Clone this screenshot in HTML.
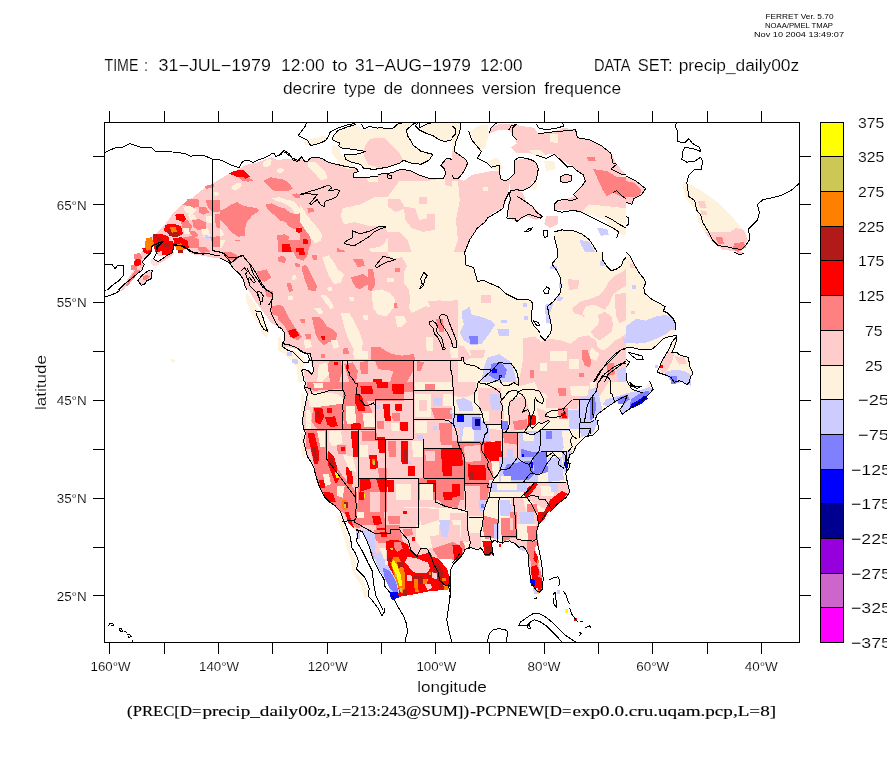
<!DOCTYPE html>
<html><head><meta charset="utf-8">
<style>
html,body{margin:0;padding:0;background:#fff;width:887px;height:765px;overflow:hidden}
svg{display:block}
text{font-family:"Liberation Sans",sans-serif;fill:#000;stroke:#fff;stroke-width:0.15px}
.s{stroke:none} .s text{stroke:inherit}
.s{font-family:"Liberation Serif",serif}
</style></head><body>
<svg width="887" height="765" viewBox="0 0 887 765">
<rect width="887" height="765" fill="#fff"/>
<!-- header -->
<g font-size="8" class="s" style="font-family:'Liberation Sans',sans-serif">
<text x="765.5" y="18.5" textLength="68" lengthAdjust="spacingAndGlyphs">FERRET Ver. 5.70</text>
<text x="765" y="27.5" textLength="68" lengthAdjust="spacingAndGlyphs">NOAA/PMEL TMAP</text>
<text x="754" y="36.5" textLength="90" lengthAdjust="spacingAndGlyphs">Nov 10 2004 13:49:07</text>
</g>
<g font-size="16">
<text x="104.5" y="71" textLength="33.9" lengthAdjust="spacingAndGlyphs">TIME</text>
<text x="144.2" y="71" textLength="3.6" lengthAdjust="spacingAndGlyphs">:</text>
<text x="158.6" y="71" textLength="112.3" lengthAdjust="spacingAndGlyphs">31−JUL−1979</text>
<text x="281.1" y="71" textLength="43.6" lengthAdjust="spacingAndGlyphs">12:00</text>
<text x="332.2" y="71" textLength="15.4" lengthAdjust="spacingAndGlyphs">to</text>
<text x="355.1" y="71" textLength="115.7" lengthAdjust="spacingAndGlyphs">31−AUG−1979</text>
<text x="479.9" y="71" textLength="42.7" lengthAdjust="spacingAndGlyphs">12:00</text>
<text x="593.9" y="71" textLength="36.7" lengthAdjust="spacingAndGlyphs">DATA</text>
<text x="637.7" y="71" textLength="34.8" lengthAdjust="spacingAndGlyphs">SET:</text>
<text x="678.7" y="71" textLength="120.4" lengthAdjust="spacingAndGlyphs">precip_daily00z</text>
<text x="282.9" y="94.4" textLength="53.1" lengthAdjust="spacingAndGlyphs">decrire</text>
<text x="343.7" y="94.4" textLength="32.1" lengthAdjust="spacingAndGlyphs">type</text>
<text x="383.7" y="94.4" textLength="18.9" lengthAdjust="spacingAndGlyphs">de</text>
<text x="410.7" y="94.4" textLength="63.3" lengthAdjust="spacingAndGlyphs">donnees</text>
<text x="482.0" y="94.4" textLength="54.1" lengthAdjust="spacingAndGlyphs">version</text>
<text x="544.2" y="94.4" textLength="76.9" lengthAdjust="spacingAndGlyphs">frequence</text>
</g>
<!-- MAP -->
<g id="map"><defs><clipPath id="cA1"><rect x="104.00" y="122.00" width="174.00" height="130.06"/></clipPath><clipPath id="lA1"><path clip-rule="evenodd" d="M103.50 121.50H278.50V252.56H103.50ZM104.00 220.00H204.00V252.56H104.00ZM278.00 122.00H278.50V185.13H278.00ZM190.00 150.00H278.50V240.03H190.00ZM278.00 252.00H278.50V252.56H278.00ZM120.00 200.00H220.00V252.56H120.00Z"/></clipPath><clipPath id="cA2"><rect x="278.00" y="122.00" width="174.00" height="130.06"/></clipPath><clipPath id="lA2"><path clip-rule="evenodd" d="M277.50 121.50H452.50V252.56H277.50ZM278.00 122.00H378.00V185.13H278.00ZM277.50 150.00H300.00V240.03H277.50ZM278.00 252.00H368.00V252.56H278.00ZM368.00 252.00H452.50V252.56H368.00Z"/></clipPath><clipPath id="cA3"><rect x="452.00" y="122.00" width="174.00" height="130.06"/></clipPath><clipPath id="lA3"><path clip-rule="evenodd" d="M451.50 121.50H626.50V252.56H451.50ZM540.00 252.00H626.00V252.56H540.00ZM451.50 252.00H458.00V252.56H451.50Z"/></clipPath><clipPath id="cA4"><rect x="626.00" y="122.00" width="174.00" height="130.06"/></clipPath><clipPath id="lA4"><path clip-rule="evenodd" d="M625.50 121.50H800.50V252.56H625.50ZM625.50 252.00H626.00V252.56H625.50Z"/></clipPath><clipPath id="cB1"><rect x="104.00" y="252.00" width="174.00" height="130.06"/></clipPath><clipPath id="lB1"><path clip-rule="evenodd" d="M103.50 251.50H278.50V382.56H103.50ZM104.00 251.50H204.00V290.01H104.00ZM278.00 252.00H278.50V381.91H278.00ZM120.00 251.50H220.00V270.01H120.00Z"/></clipPath><clipPath id="cB2"><rect x="278.00" y="252.00" width="174.00" height="130.06"/></clipPath><clipPath id="lB2"><path clip-rule="evenodd" d="M277.50 251.50H452.50V382.56H277.50ZM278.00 252.00H368.00V381.91H278.00ZM368.00 252.00H452.50V381.91H368.00Z"/></clipPath><clipPath id="cB3"><rect x="452.00" y="252.00" width="174.00" height="130.06"/></clipPath><clipPath id="lB3"><path clip-rule="evenodd" d="M451.50 251.50H626.50V382.56H451.50ZM590.00 330.00H626.50V382.56H590.00ZM540.00 252.00H626.00V382.02H540.00ZM451.50 252.00H458.00V381.91H451.50Z"/></clipPath><clipPath id="cB4"><rect x="626.00" y="252.00" width="174.00" height="130.06"/></clipPath><clipPath id="lB4"><path clip-rule="evenodd" d="M625.50 251.50H800.50V382.56H625.50ZM625.50 330.00H700.00V382.56H625.50ZM625.50 252.00H626.00V382.02H625.50Z"/></clipPath><clipPath id="cC2"><rect x="278.00" y="382.00" width="174.00" height="130.06"/></clipPath><clipPath id="lC2"><path clip-rule="evenodd" d="M277.50 381.50H452.50V512.56H277.50ZM400.00 500.00H452.50V512.56H400.00ZM278.00 381.50H368.00V381.91H278.00ZM368.00 381.50H452.50V381.91H368.00Z"/></clipPath><clipPath id="cC3"><rect x="452.00" y="382.00" width="174.00" height="130.06"/></clipPath><clipPath id="lC3"><path clip-rule="evenodd" d="M451.50 381.50H626.50V512.56H451.50ZM590.00 381.50H626.50V420.03H590.00ZM451.50 500.00H510.00V512.56H451.50ZM540.00 381.50H626.00V382.02H540.00ZM451.50 381.50H458.00V381.91H451.50Z"/></clipPath><clipPath id="cC4"><rect x="626.00" y="382.00" width="174.00" height="130.06"/></clipPath><clipPath id="lC4"><path clip-rule="evenodd" d="M625.50 381.50H800.50V512.56H625.50ZM625.50 381.50H700.00V420.03H625.50ZM625.50 381.50H626.00V382.02H625.50Z"/></clipPath><clipPath id="cD1"><rect x="104.00" y="512.00" width="174.00" height="130.06"/></clipPath><clipPath id="lD1"><path clip-rule="evenodd" d="M103.50 511.50H278.50V642.56H103.50Z"/></clipPath><clipPath id="cD2"><rect x="278.00" y="512.00" width="174.00" height="130.06"/></clipPath><clipPath id="lD2"><path clip-rule="evenodd" d="M277.50 511.50H452.50V642.56H277.50ZM400.00 511.50H452.50V599.94H400.00ZM360.00 525.00H452.50V599.97H360.00Z"/></clipPath><clipPath id="cD3"><rect x="452.00" y="512.00" width="174.00" height="130.06"/></clipPath><clipPath id="lD3"><path clip-rule="evenodd" d="M451.50 511.50H626.50V642.56H451.50ZM451.50 511.50H510.00V599.94H451.50ZM451.50 525.00H460.00V599.97H451.50Z"/></clipPath><clipPath id="cAK"><rect x="104.00" y="220.00" width="100.00" height="70.01"/></clipPath><clipPath id="lAK"><path clip-rule="evenodd" d="M103.50 219.50H204.50V290.51H103.50ZM190.00 219.50H204.50V240.03H190.00ZM120.00 219.50H204.50V270.01H120.00Z"/></clipPath><clipPath id="cX1"><rect x="278.00" y="122.00" width="100.00" height="63.13"/></clipPath><clipPath id="lX1"><path clip-rule="evenodd" d="M277.50 121.50H378.50V185.63H277.50ZM277.50 150.00H300.00V185.63H277.50Z"/></clipPath><clipPath id="cX2"><rect x="590.00" y="330.00" width="110.00" height="90.03"/></clipPath><clipPath id="lX2"><path clip-rule="evenodd" d="M589.50 329.50H700.50V420.53H589.50ZM589.50 329.50H626.00V382.02H589.50Z"/></clipPath><clipPath id="cX3"><rect x="400.00" y="500.00" width="110.00" height="99.94"/></clipPath><clipPath id="lX3"><path clip-rule="evenodd" d="M399.50 499.50H510.50V600.44H399.50ZM399.50 525.00H460.00V599.97H399.50Z"/></clipPath><clipPath id="cX4"><rect x="540.00" y="252.00" width="86.00" height="130.02"/></clipPath><clipPath id="lX4"><path clip-rule="evenodd" d="M539.50 251.50H626.50V382.52H539.50Z"/></clipPath><clipPath id="cX5"><rect x="190.00" y="150.00" width="110.00" height="90.03"/></clipPath><clipPath id="lX5"><path clip-rule="evenodd" d="M189.50 149.50H300.50V240.53H189.50ZM189.50 200.00H220.00V240.53H189.50Z"/></clipPath><clipPath id="cX6"><rect x="278.00" y="252.00" width="90.00" height="129.91"/></clipPath><clipPath id="lX6"><path clip-rule="evenodd" d="M277.50 251.50H368.50V382.41H277.50ZM368.00 252.00H368.50V381.91H368.00Z"/></clipPath><clipPath id="cX7"><rect x="368.00" y="252.00" width="90.00" height="129.91"/></clipPath><clipPath id="lX7"><path clip-rule="evenodd" d="M367.50 251.50H458.50V382.41H367.50Z"/></clipPath><clipPath id="cX8"><rect x="120.00" y="200.00" width="100.00" height="70.01"/></clipPath><clipPath id="lX8"><path clip-rule="evenodd" d="M119.50 199.50H220.50V270.51H119.50Z"/></clipPath><clipPath id="cX9"><rect x="360.00" y="525.00" width="100.00" height="74.97"/></clipPath><clipPath id="lX9"><path clip-rule="evenodd" d="M359.50 524.50H460.50V600.47H359.50Z"/></clipPath><clipPath id="cmap"><rect x="104" y="122" width="696" height="521"/></clipPath></defs><g clip-path="url(#cmap)" shape-rendering="crispEdges"><g clip-path="url(#cA1)"><rect x="104.0" y="122.0" width="174.0" height="130.1" fill="#fff"/><polygon fill="#ffcccc" points="142.3,252.1 149.1,243.6 157.0,235.8 164.8,226.0 172.7,218.1 180.5,210.3 188.4,202.4 196.2,196.5 206.0,188.7 215.8,181.8 225.6,175.9 233.5,172.0 239.7,168.7 241.3,164.2 245.2,161.2 253.1,162.2 260.9,158.3 272.7,153.4 278.0,156.3 278.0,252.1"/><polygon fill="#fff2dc" points="231.5,183.8 239.4,181.8 242.3,186.7 235.4,190.7"/><polygon fill="#fff2dc" points="213.9,191.6 218.8,190.7 219.7,195.6 214.8,196.2"/><polygon fill="#fff2dc" points="260.9,159.7 270.7,156.3 273.1,163.6 266.8,167.5 261.9,164.2"/><polygon fill="#fff2dc" points="272.7,196.5 278.0,195.0 278.0,202.4 273.7,201.4"/><polygon fill="#fff2dc" points="186.4,206.4 196.2,208.3 198.6,216.2 190.3,218.5 184.4,212.6"/><polygon fill="#fff2dc" points="202.1,216.2 213.9,214.2 221.7,224.0 219.7,231.9 225.6,239.7 221.7,247.5 214.8,252.1 208.0,252.1 206.0,239.7 200.1,226.0"/><polygon fill="#ff8080" points="264.9,178.9 274.7,176.9 278.0,180.9 278.0,188.7 270.7,191.1 264.9,184.8"/><polygon fill="#ff8080" points="225.6,204.4 239.4,202.4 249.2,208.3 259.0,209.3 257.0,216.2 249.2,220.1 245.2,226.0 241.3,231.9 239.4,241.7 231.5,239.7 225.6,231.9 217.8,224.0 213.9,214.2 221.7,210.3"/><polygon fill="#ff8080" points="266.8,204.4 278.0,202.4 278.0,212.6 270.7,212.6"/><polygon fill="#ff8080" points="186.4,198.5 196.2,200.5 206.0,204.4 211.9,208.3 209.9,214.2 202.1,212.2 196.2,210.3 188.4,204.4"/><polygon fill="#ff8080" points="206.0,186.7 215.8,183.8 216.2,188.7 209.9,191.1"/><polygon fill="#ff8080" points="192.3,222.0 202.1,220.1 209.9,226.0 204.0,231.9 196.2,231.9"/><polygon fill="#ff8080" points="223.7,175.0 229.5,172.0 253.1,175.0 251.1,180.9 239.4,180.9 229.5,178.9"/><polygon fill="#ff8080" points="157.0,235.8 162.9,231.9 168.7,239.7 162.9,245.6 155.0,243.6"/><polygon fill="#ff0000" points="229.5,174.0 239.4,171.0 245.2,171.0 250.1,175.9 245.2,177.9 239.4,176.9 233.5,176.9"/><polygon fill="#ff0000" points="176.6,216.2 182.5,214.2 186.4,218.1 182.5,221.1 177.6,220.1"/><polygon fill="#ff0000" points="162.9,226.0 170.7,222.0 178.5,224.0 184.4,229.9 186.4,239.7 191.3,247.5 188.4,252.1 144.2,252.1 151.1,241.7 157.0,236.8"/><polygon fill="#ff8000" points="168.7,226.9 173.6,226.0 176.6,229.9 172.7,232.8 168.7,230.9"/><polygon fill="#b21a1a" points="170.7,232.8 178.5,231.9 184.4,235.8 181.5,238.7 174.6,237.7"/><polygon fill="#b21a1a" points="153.0,237.7 157.9,234.8 160.9,239.7 156.0,241.7"/><polygon fill="#ff8000" points="146.2,247.5 150.1,241.7 153.0,244.6 151.1,249.5"/><polygon fill="#ff8000" points="174.6,244.6 182.5,245.6 186.4,250.5 178.5,252.1 173.6,249.5"/><polygon fill="#ff8080" points="184.4,241.7 192.3,243.6 196.2,252.1 188.4,252.1"/><polygon fill="#ccccff" points="203.7,236.2 207.0,234.8 209.9,237.7 206.4,239.7"/></g>
<g clip-path="url(#cA2)"><rect x="278.0" y="122.0" width="174.0" height="130.1" fill="#fff"/><polygon fill="#ffcccc" points="278.0,156.3 282.9,151.0 287.8,154.4 292.7,158.3 297.6,160.3 302.5,156.9 305.5,161.2 309.4,158.3 319.2,157.7 329.0,161.2 340.8,163.2 350.6,166.1 356.5,169.1 358.4,174.0 352.5,175.9 362.4,177.9 372.2,173.0 378.0,175.0 383.9,173.0 391.8,175.9 391.8,178.9 387.9,177.9 386.9,174.0 393.7,172.0 401.6,169.1 411.4,171.0 419.2,175.0 431.0,178.9 442.8,178.9 445.7,174.0 444.7,169.1 440.8,165.2 446.7,158.3 452.0,159.3 452.0,252.1 278.0,252.1"/><polygon fill="#fff2dc" points="332.9,131.8 336.9,128.9 346.7,125.9 360.4,124.0 364.3,127.9 376.1,126.9 387.9,128.9 393.7,127.9 397.7,124.0 405.5,122.0 419.2,122.0 413.4,124.0 406.5,129.8 407.5,135.7 411.4,141.6 413.4,145.5 421.2,151.4 433.0,154.4 429.0,160.3 421.2,164.2 411.4,163.2 403.5,160.3 399.6,163.2 387.9,167.1 376.1,169.1 360.4,167.1 348.6,161.2 344.7,156.3 352.5,154.4 364.3,151.4 356.5,149.5 344.7,148.5 340.8,143.6 334.9,140.6 332.9,135.7"/><polygon fill="#ffcccc" points="368.2,139.7 383.9,137.7 391.8,145.5 399.6,153.4 403.5,160.3 399.6,163.2 387.9,167.1 378.0,168.1 376.1,157.3 370.2,149.5"/><polygon fill="#fff2dc" points="419.2,127.9 427.1,124.0 434.9,122.0 452.0,122.0 452.0,139.7 444.7,141.6 438.9,139.7 433.0,135.7 427.1,133.8"/><polygon fill="#fff2dc" points="307.4,141.6 327.0,139.7 334.9,147.5 327.0,149.5 309.4,145.5"/><polygon fill="#fff2dc" points="278.0,165.2 289.8,166.1 289.8,173.0 278.0,173.4"/><polygon fill="#fff2dc" points="307.4,163.2 319.2,161.2 325.1,171.0 323.1,178.9 315.3,176.9"/><polygon fill="#fff2dc" points="331.0,162.2 356.5,170.1 352.5,175.9 342.7,173.4 334.9,169.1"/><polygon fill="#fff2dc" points="342.7,208.3 360.4,204.4 376.1,196.5 387.9,196.5 399.6,180.9 427.1,180.9 452.0,176.9 452.0,252.1 372.2,252.1 360.4,243.6 346.7,231.9 340.8,216.2"/><polygon fill="#ffcccc" points="403.5,206.4 415.3,208.3 419.2,220.1 434.9,216.2 434.9,229.9 423.2,231.9 411.4,227.9 405.5,220.1"/><polygon fill="#ffcccc" points="387.9,231.9 399.6,231.9 407.5,239.7 411.4,252.1 387.9,252.1"/><polygon fill="#ffcccc" points="444.7,161.2 452.0,160.3 452.0,186.7 444.7,184.8"/><polygon fill="#ffcccc" points="387.9,198.5 399.6,198.5 405.5,208.3 395.7,212.2 387.9,206.4"/><polygon fill="#ffcccc" points="419.2,196.5 427.1,196.5 427.1,204.4 419.2,204.4"/><polygon fill="#ffcccc" points="427.1,214.2 434.9,214.2 434.9,227.9 427.1,227.9"/><polygon fill="#ff8080" points="278.0,178.9 287.8,178.9 293.7,190.7 283.9,192.6 278.0,190.7"/><polygon fill="#ff8080" points="278.0,196.5 289.8,195.6 297.6,204.4 301.5,214.2 305.5,224.0 309.4,231.9 311.3,243.6 307.4,252.1 278.0,252.1"/><polygon fill="#ff8080" points="307.4,208.3 313.3,208.3 314.3,212.2 308.4,212.6"/><polygon fill="#ffcccc" points="283.9,200.5 291.7,204.4 295.7,214.2 289.8,216.2 283.9,208.3"/><polygon fill="#ffcccc" points="285.8,224.0 291.7,222.0 295.7,229.9 289.8,231.9"/><polygon fill="#ff0000" points="295.7,227.9 301.5,227.9 302.5,231.9 296.6,232.2"/><polygon fill="#ff0000" points="302.5,238.7 307.4,238.7 307.8,243.6 303.1,243.6"/><polygon fill="#ff0000" points="281.9,243.6 289.8,243.6 291.7,252.1 281.9,252.1"/><polygon fill="#ff0000" points="295.7,247.5 303.5,247.5 303.5,252.1 295.7,252.1"/><polygon fill="#ff8080" points="336.9,247.5 344.7,247.5 344.7,252.1 336.9,252.1"/><polygon fill="#fff2dc" points="290.0,201.1 297.4,199.9 307.4,216.0 316.1,226.0 322.1,234.6 321.0,240.9 314.9,243.2 308.6,234.6 300.0,222.2 292.5,212.2 290.0,209.9"/><polygon fill="#ffcccc" points="337.0,226.0 354.5,222.2 369.4,226.0 384.3,226.0 389.2,234.6 384.3,243.2 379.2,247.0 364.3,249.5 352.0,252.1 339.6,249.5 335.9,240.9"/></g>
<g clip-path="url(#cA3)"><rect x="452.0" y="122.0" width="174.0" height="130.1" fill="#fff"/><polygon fill="#fff2dc" points="452.0,122.0 460.8,122.0 459.8,131.8 455.9,141.6 454.0,151.4 452.0,153.4"/><polygon fill="#fff2dc" points="469.7,131.8 477.5,125.9 487.3,124.0 489.3,133.8 485.3,147.5 481.4,151.4 473.6,141.6"/><polygon fill="#fff2dc" points="487.3,161.2 497.1,157.3 503.0,167.1 499.1,171.0 491.2,169.1"/><polygon fill="#ffcccc" points="452.0,151.4 454.0,151.4 459.8,155.3 465.7,159.3 467.7,163.2 464.8,169.1 462.8,173.0 457.9,178.9 463.8,180.9 471.6,175.0 481.4,173.0 491.2,171.0 499.1,171.0 501.0,178.9 505.0,180.9 508.9,178.9 508.9,188.7 506.9,196.5 505.0,204.4 501.0,208.3 491.2,214.2 485.3,222.0 477.5,227.9 469.7,239.7 464.8,252.1 452.0,252.1"/><polygon fill="#fff2dc" points="452.0,180.9 457.9,180.9 459.8,200.5 455.9,220.1 457.9,239.7 454.0,252.1 452.0,252.1"/><polygon fill="#fff2dc" points="483.4,186.7 488.3,186.7 488.3,190.7 483.4,190.7"/><polygon fill="#ffcccc" points="514.8,160.3 526.5,158.3 536.4,163.2 538.3,169.1 536.4,178.9 530.5,186.7 522.6,190.7 516.7,189.7 510.9,190.7 508.9,180.9 514.8,173.0"/><polygon fill="#ffcccc" points="510.9,190.7 516.7,189.7 522.6,192.6 526.5,202.4 534.4,208.3 542.2,216.2 536.4,220.1 526.5,216.2 516.7,222.0 508.9,218.1 507.9,204.4"/><polygon fill="#fff2dc" points="530.5,180.9 537.3,180.9 536.4,188.7 530.5,189.7"/><polygon fill="#ffcccc" points="489.3,133.8 499.1,129.8 508.9,129.8 514.8,137.7 516.7,143.6 510.9,147.5 516.7,153.4 530.5,153.4 542.2,155.3 554.0,153.4 561.9,160.3 571.7,166.1 581.5,173.0 585.4,180.9 577.5,190.7 573.6,196.5 561.9,200.5 554.0,204.4 554.0,210.3 569.7,210.3 589.3,214.2 607.0,220.1 626.0,224.0 626.0,175.0 616.8,164.2 610.9,153.4 601.1,145.5 589.3,139.7 577.5,137.7 575.6,129.8 563.8,127.9 554.0,131.8 538.3,133.8 534.4,127.9 520.7,125.9 510.9,124.0 501.0,124.0 491.2,125.9"/><polygon fill="#fff2dc" points="528.5,149.5 540.3,149.5 546.2,155.3 534.4,156.3"/><polygon fill="#fff2dc" points="550.1,133.8 557.9,133.8 557.9,143.6 550.1,141.6"/><polygon fill="#fff2dc" points="544.2,161.2 554.0,161.2 556.0,169.1 546.2,171.0"/><polygon fill="#fff2dc" points="589.3,204.4 608.9,206.4 626.0,208.3 626.0,224.0 607.0,220.1 589.3,214.2 581.5,212.2"/><polygon fill="#fff2dc" points="620.7,175.0 626.0,175.0 626.0,184.8 620.7,184.8"/><polygon fill="#ff8080" points="587.4,157.3 595.2,157.3 595.6,161.2 587.7,161.2"/><polygon fill="#ff8080" points="593.2,169.1 607.0,171.0 616.8,176.9 626.0,176.9 626.0,196.5 620.7,196.5 612.9,192.6 607.0,196.5 603.0,190.7"/><polygon fill="#ffcccc" points="559.9,176.9 565.8,174.0 571.7,175.9 571.7,180.9 565.8,182.8 560.9,181.8"/><polygon fill="#fff2dc" points="554.0,231.9 561.9,229.9 573.6,230.9 581.5,233.8 589.3,239.7 593.2,245.6 597.2,252.1 557.9,252.1 556.0,243.6"/><polygon fill="#ccccff" points="579.5,239.7 589.3,241.7 595.2,252.1 585.4,252.1 581.5,245.6"/><polygon fill="#fff2dc" points="605.0,216.2 626.0,226.0 626.0,235.8 618.7,233.8 608.9,226.0"/><polygon fill="#ccccff" points="597.2,227.9 607.0,228.9 608.9,234.8 601.1,235.8"/><polygon fill="#ffcccc" points="546.2,216.2 557.9,216.2 557.9,224.0 550.1,227.9 544.2,224.0"/></g>
<g clip-path="url(#cA4)"><rect x="626.0" y="122.0" width="174.0" height="130.1" fill="#fff"/><polygon fill="#ffcccc" points="626.0,176.9 635.8,180.9 644.6,188.7 641.7,194.6 633.8,198.5 631.9,204.4 626.0,203.4"/><polygon fill="#ff8080" points="626.0,180.9 633.8,182.8 641.7,189.7 639.7,194.6 633.8,197.5 626.0,196.5"/><polygon fill="#fff2dc" points="682.9,180.9 686.8,182.8 690.7,184.8 704.5,192.6 720.2,204.4 731.9,216.2 739.8,226.0 745.7,231.9 747.6,239.7 743.7,247.5 735.9,251.5 720.2,247.5 712.3,239.7 704.5,231.9 698.6,222.0 696.6,212.2 690.7,204.4 684.9,196.5 682.9,186.7"/><polygon fill="#ffcccc" points="704.5,231.9 716.2,231.9 730.0,231.9 735.9,227.9 743.7,229.9 747.6,239.7 743.7,247.5 735.9,251.5 722.1,249.5 712.3,241.7"/><polygon fill="#ff8080" points="715.3,236.8 722.1,236.8 724.1,243.6 718.2,244.0"/><polygon fill="#ff8080" points="733.9,243.6 743.7,241.7 746.1,247.5 737.8,252.1 732.9,249.5"/><polygon fill="#ffcccc" points="697.6,200.5 704.5,201.4 706.8,208.3 700.5,208.3"/><polygon fill="#ffcccc" points="700.5,210.3 706.4,211.3 706.8,214.6 701.5,214.6"/></g>
<g clip-path="url(#cB1)"><rect x="104.0" y="252.0" width="174.0" height="130.1" fill="#fff"/><polygon fill="#ffcccc" points="193.3,252.0 202.1,254.0 213.9,254.9 221.7,258.9 229.5,262.8 233.5,268.7 239.4,273.6 243.3,279.5 245.2,286.3 249.2,291.2 255.0,301.0 260.9,308.9 266.8,316.7 270.7,322.6 278.0,326.5 278.0,252.0"/><polygon fill="#ffcccc" points="206.0,252.0 208.0,253.6 217.8,257.9 221.7,252.0"/><polygon fill="#fff2dc" points="246.2,292.2 253.1,301.0 259.0,310.9 264.9,320.7 269.2,330.5 266.8,337.9 262.5,334.4 259.0,324.6 253.1,316.7 248.8,306.9 245.6,299.1"/><polygon fill="#ff8080" points="257.0,271.6 266.8,269.3 271.1,277.5 264.9,281.8 259.0,279.5"/><polygon fill="#ff8080" points="264.9,289.3 273.1,291.2 272.7,297.5 266.8,297.1"/><polygon fill="#ff8080" points="270.7,306.9 278.0,305.0 278.0,315.8 272.7,314.8"/><polygon fill="#ff8080" points="221.7,252.0 231.5,252.0 239.4,256.9 235.4,260.8 229.5,259.8"/><polygon fill="#fff2dc" points="170.7,359.9 173.1,358.5 175.0,361.1 172.7,363.0"/><polygon fill="#ffcccc" points="115.8,293.2 123.6,287.3 125.6,285.3 122.6,290.3"/></g>
<g clip-path="url(#cB2)"><rect x="278.0" y="252.0" width="174.0" height="130.1" fill="#ffcccc"/><polygon fill="#fff2dc" points="387.9,252.0 452.0,252.0 452.0,303.0 434.9,304.6 427.1,310.9 415.3,310.9 411.4,301.0 415.3,291.2 407.5,281.4 403.5,271.6 395.7,263.8 391.8,255.9"/><polygon fill="#ffcccc" points="395.7,267.7 403.5,267.7 403.5,273.6 395.7,273.6"/><polygon fill="#ffcccc" points="431.0,295.2 452.0,293.2 452.0,303.0 434.9,304.6"/><polygon fill="#fff2dc" points="370.2,287.3 383.9,287.3 391.8,297.1 395.7,305.0 391.8,316.7 382.0,316.7 374.1,310.9 370.2,301.0"/><polygon fill="#fff2dc" points="323.1,255.9 334.9,254.0 338.8,263.8 342.7,275.5 336.9,283.4 331.0,281.4 327.0,269.7"/><polygon fill="#fff2dc" points="340.8,310.9 346.7,310.9 354.5,322.6 360.4,330.5 366.3,344.2 362.4,346.2 354.5,338.3 346.7,328.5 342.7,318.7"/><polygon fill="#fff2dc" points="395.7,316.7 405.5,316.7 407.5,326.5 399.6,326.5"/><polygon fill="#fff2dc" points="427.1,336.4 433.0,336.4 434.9,350.1 428.1,350.1"/><polygon fill="#fff2dc" points="317.2,306.9 323.1,306.9 323.1,310.9 317.2,310.9"/><polygon fill="#fff2dc" points="321.2,295.2 329.0,295.2 332.9,306.9 327.0,306.9"/><polygon fill="#fff2dc" points="344.7,344.2 352.5,344.2 352.5,352.0 345.7,352.0"/><polygon fill="#ff8080" points="278.0,252.0 285.8,252.0 286.8,262.8 280.0,263.8 278.0,261.8"/><polygon fill="#ff8080" points="293.7,252.0 307.4,252.0 307.4,260.8 295.7,261.8"/><polygon fill="#ff8080" points="301.5,263.8 307.4,263.8 317.2,283.4 315.3,291.2 309.4,291.2 303.5,277.5"/><polygon fill="#ff8080" points="285.8,283.4 291.7,283.4 293.7,291.2 287.8,291.2"/><polygon fill="#ff8080" points="354.5,257.9 364.3,259.8 364.3,267.7 356.5,267.7"/><polygon fill="#ff8080" points="352.5,277.5 364.3,273.6 370.2,269.7 376.1,281.4 374.1,291.2 364.3,287.3 356.5,289.3"/><polygon fill="#ff8080" points="278.0,305.0 285.8,310.9 293.7,324.6 299.6,330.5 303.5,338.3 297.6,340.3 289.8,338.3 281.9,328.5 278.0,324.6"/><polygon fill="#ff8080" points="313.3,316.7 321.2,318.7 329.0,326.5 336.9,330.5 340.8,340.3 331.0,342.2 321.2,344.2 317.2,334.4"/><polygon fill="#ff8080" points="372.2,346.2 387.9,350.1 403.5,356.0 415.3,355.0 419.2,361.9 415.3,373.6 405.5,373.6 395.7,369.7 387.9,365.8 376.1,357.9"/><polygon fill="#ff8080" points="438.9,318.7 446.7,320.7 446.7,334.4 439.8,334.4"/><polygon fill="#ff8080" points="329.0,361.9 340.8,363.8 340.8,375.6 331.0,377.5"/><polygon fill="#ff8080" points="346.7,363.8 354.5,365.8 360.4,377.5 352.5,382.1 346.7,377.5"/><polygon fill="#ff8080" points="362.4,369.7 370.2,367.7 372.2,377.5 364.3,379.5"/><polygon fill="#ff8080" points="380.0,369.7 387.9,371.7 387.9,379.5 380.0,379.5"/><polygon fill="#ff0000" points="297.6,252.0 305.5,252.0 305.1,255.9 298.6,255.9"/><polygon fill="#ff0000" points="289.4,329.5 296.6,328.5 299.2,336.4 292.1,338.7"/><polygon fill="#ff0000" points="321.2,336.0 325.1,336.0 325.1,340.7 321.2,340.7"/><polygon fill="#ff0000" points="334.5,361.9 337.8,361.9 337.8,366.2 334.9,366.2"/><polygon fill="#ff0000" points="346.3,364.8 349.0,364.8 349.0,368.1 346.3,368.1"/><polygon fill="#ff0000" points="374.1,379.5 382.0,379.5 382.0,382.1 374.1,382.1"/><polygon fill="#fff" points="278.0,326.5 280.0,328.5 283.9,338.3 281.9,344.2 283.9,348.1 291.7,352.0 299.6,355.0 303.5,359.9 301.5,369.7 303.5,382.1 278.0,382.1"/><polygon fill="#ffcccc" points="281.9,344.2 289.8,345.2 297.6,350.1 303.5,354.0 309.4,361.9 312.3,369.7 313.3,373.6 309.4,369.7 305.5,365.8 301.5,365.8 297.6,359.9 289.8,354.0 283.9,350.1"/><polygon fill="#fff2dc" points="278.0,327.5 280.9,330.5 283.9,339.3 281.9,344.2 278.0,344.2"/><polygon fill="#ccccff" points="286.8,352.0 293.7,356.0 299.6,363.8 293.7,363.8 287.8,357.9"/></g>
<g clip-path="url(#cB3)"><rect x="452.0" y="252.0" width="174.0" height="130.1" fill="#fff2dc"/><polygon fill="#ffcccc" points="522.6,338.3 534.4,336.4 542.2,342.2 554.0,334.4 561.9,330.5 569.7,326.5 573.6,316.7 571.7,306.9 579.5,297.1 589.3,295.2 601.1,287.3 608.9,279.5 608.9,269.7 618.7,267.7 626.0,263.8 626.0,382.1 518.7,382.1 522.6,361.9"/><polygon fill="#fff2dc" points="579.5,329.5 589.3,329.5 590.3,338.3 580.5,338.3"/><polygon fill="#fff2dc" points="561.9,336.4 569.7,336.4 569.7,344.2 561.9,344.2"/><polygon fill="#fff2dc" points="587.4,305.0 603.0,303.0 605.0,316.7 589.3,316.7"/><polygon fill="#fff2dc" points="612.9,281.4 626.0,279.5 626.0,291.2 614.8,291.2"/><polygon fill="#fff2dc" points="540.3,361.9 554.0,361.9 554.0,373.6 542.2,373.6"/><polygon fill="#fff2dc" points="565.8,369.7 577.5,369.7 577.5,377.5 565.8,377.5"/><polygon fill="#fff2dc" points="601.1,330.5 616.8,326.5 620.7,338.3 607.0,342.2"/><polygon fill="#fff2dc" points="614.8,297.1 626.0,295.2 626.0,310.9 616.8,310.9"/><polygon fill="#ffcccc" points="569.7,279.5 579.5,279.5 579.5,289.3 569.7,289.3"/><polygon fill="#ffcccc" points="481.4,295.2 491.2,295.2 491.2,303.0 481.4,303.0"/><polygon fill="#ffcccc" points="452.0,310.9 455.9,310.9 455.9,320.7 452.0,320.7"/><polygon fill="#ffcccc" points="452.0,344.2 463.8,346.2 471.6,357.9 463.8,361.9 452.0,357.9"/><polygon fill="#ffcccc" points="469.7,350.1 485.3,350.1 483.4,357.9 471.6,357.9"/><polygon fill="#ff8080" points="581.5,350.1 589.3,350.1 592.3,365.8 585.4,366.8 581.5,359.9"/><polygon fill="#ff8080" points="529.5,369.7 534.4,369.7 534.4,377.5 529.5,377.5"/><polygon fill="#ff8080" points="579.5,373.6 583.4,373.6 583.4,377.5 579.5,377.5"/><polygon fill="#ff8080" points="607.0,363.8 614.8,362.8 614.8,372.1 608.0,372.1"/><polygon fill="#ccccff" points="461.8,310.9 469.7,306.9 471.6,314.8 481.4,316.7 491.2,320.7 495.2,324.6 491.2,330.5 487.3,336.4 481.4,344.2 471.6,345.2 463.8,340.3 459.8,332.4 463.8,324.6 461.8,316.7"/><polygon fill="#8080ff" points="469.3,336.4 477.5,336.4 477.5,344.2 470.0,344.2"/><polygon fill="#ccccff" points="522.6,303.0 526.9,303.0 526.9,307.3 522.6,307.3"/><polygon fill="#ccccff" points="524.2,315.8 527.7,315.8 527.7,319.7 524.2,319.7"/><polygon fill="#ccccff" points="501.0,319.7 506.9,319.7 506.9,323.0 501.0,323.0"/><polygon fill="#ccccff" points="497.1,328.5 508.9,328.5 508.9,336.4 499.1,336.4"/><polygon fill="#ccccff" points="544.2,306.9 556.0,303.0 557.9,310.9 552.0,318.7 548.1,322.6 544.2,316.7"/><polygon fill="#ccccff" points="487.3,357.9 499.1,354.0 510.9,361.9 514.8,373.6 516.7,382.1 481.4,382.1 483.4,369.7"/><polygon fill="#8080ff" points="491.2,363.8 501.0,361.9 506.9,369.7 505.0,377.5 495.2,379.5 489.3,375.6"/><polygon fill="#0000ff" points="492.2,368.7 496.7,368.7 496.7,372.6 492.2,372.6"/><polygon fill="#ccccff" points="616.8,365.8 626.0,363.8 626.0,377.5 618.7,377.5"/><polygon fill="#fff" points="464.8,252.0 465.7,264.8 473.6,267.7 477.5,281.4 483.4,280.4 499.1,287.3 505.0,293.2 516.7,299.1 530.5,300.1 532.4,303.0 531.4,320.7 534.4,326.5 538.3,330.5 545.2,341.3 548.1,334.4 552.0,331.4 550.1,322.6 548.1,308.9 554.0,303.0 560.9,295.2 561.9,285.3 559.9,271.6 552.0,266.7 556.9,261.8 558.9,252.0"/><polygon fill="#ccccff" points="544.2,308.9 550.1,306.9 549.1,318.7 545.2,318.7"/><polygon fill="#fff" points="603.0,252.0 601.1,257.9 605.0,263.8 611.9,270.6 618.7,265.7 624.6,259.8 626.0,257.9 626.0,252.0"/></g>
<g clip-path="url(#cB4)"><rect x="626.0" y="252.0" width="174.0" height="130.1" fill="#fff"/><polygon fill="#fff2dc" points="626.0,252.0 629.9,255.9 633.8,263.8 639.7,273.6 644.6,279.5 645.6,283.4 643.7,287.3 644.6,293.2 651.5,299.1 659.3,303.0 665.2,306.9 663.3,310.9 667.2,312.8 673.1,318.7 676.0,324.6 675.0,330.5 671.1,334.4 665.2,336.4 659.3,342.2 651.5,348.1 643.7,349.1 637.8,348.1 626.0,349.1"/><polygon fill="#ccccff" points="626.0,326.5 635.8,318.7 645.6,320.7 655.4,316.7 665.2,314.8 673.1,318.7 676.0,326.5 673.1,334.4 665.2,337.3 655.4,340.3 645.6,344.2 637.8,342.2 626.0,342.2"/><polygon fill="#ffcccc" points="629.9,263.8 633.8,263.8 633.8,267.7 629.9,267.7"/><polygon fill="#ffcccc" points="630.9,310.5 634.8,310.5 634.8,314.4 630.9,314.4"/><polygon fill="#ccccff" points="631.9,285.3 635.8,285.3 635.8,289.3 631.9,289.3"/><polygon fill="#ccccff" points="637.8,347.7 645.6,347.7 645.6,350.1 637.8,350.1"/><polygon fill="#ffcccc" points="656.4,373.6 657.4,367.7 661.3,361.9 665.2,354.0 667.2,344.2 673.1,336.4 677.4,335.4 676.0,342.2 673.1,346.2 672.1,352.0 677.0,354.0 682.9,356.0 687.8,357.9 688.8,361.9 686.8,365.8 689.8,369.7 691.7,373.6 690.7,377.5 688.8,382.1 655.4,382.1"/><polygon fill="#ccccff" points="669.2,361.9 677.0,359.9 684.9,365.8 684.9,375.6 677.0,377.5 669.2,371.7"/><polygon fill="#fff2dc" points="675.0,354.0 682.9,356.0 684.9,361.9 679.0,361.9"/><polygon fill="#8080ff" points="671.1,373.6 677.0,372.6 678.0,382.1 671.1,382.1"/><polygon fill="#ff0000" points="660.3,364.8 663.3,364.8 663.3,367.7 660.3,367.7"/><polygon fill="#ccccff" points="655.4,365.8 659.3,365.8 659.3,369.7 655.4,369.7"/><polygon fill="#ffcccc" points="626.0,357.9 629.9,357.9 629.9,369.7 626.0,369.7"/><polygon fill="#ffcccc" points="645.6,377.5 651.5,377.5 651.5,382.1 645.6,382.1"/><polygon fill="#ffcccc" points="734.9,252.0 743.7,252.0 740.8,255.5"/></g>
<g clip-path="url(#cC2)"><rect x="278.0" y="382.0" width="174.0" height="130.1" fill="#ffcccc"/><polygon fill="#ff8080" points="307.4,382.0 342.7,382.0 342.7,388.9 313.3,390.8 307.4,387.9"/><polygon fill="#fff2dc" points="313.3,383.0 323.1,383.0 323.1,387.9 314.3,387.9"/><polygon fill="#fff2dc" points="307.4,393.8 317.2,391.8 336.9,393.8 342.7,397.7 342.7,407.5 329.0,405.5 317.2,409.5 309.4,405.5"/><polygon fill="#ff8080" points="313.3,407.5 329.0,405.5 342.7,403.6 343.7,429.1 317.2,429.1 311.3,421.2"/><polygon fill="#ff0000" points="314.3,408.5 322.1,407.5 324.1,417.3 320.2,424.2 315.3,422.2"/><polygon fill="#b21a1a" points="316.3,411.4 319.2,411.4 320.2,417.3 317.2,417.3"/><polygon fill="#ff0000" points="327.0,407.5 331.9,407.5 331.9,413.4 327.0,413.4"/><polygon fill="#ff0000" points="325.1,417.3 334.9,416.3 337.8,426.1 331.0,427.1 327.0,424.2"/><polygon fill="#fff2dc" points="305.5,409.5 310.4,409.5 311.3,429.1 305.5,429.1"/><polygon fill="#ff8080" points="342.7,382.0 356.5,382.0 360.4,389.8 368.2,403.6 372.2,411.4 376.1,429.1 343.7,429.1"/><polygon fill="#ff0000" points="354.5,393.8 362.4,395.7 365.3,411.4 358.4,411.4 355.5,403.6"/><polygon fill="#fff2dc" points="345.7,405.5 354.5,405.5 356.5,423.2 346.7,424.2"/><polygon fill="#fff2dc" points="362.4,413.4 374.1,413.4 375.1,427.1 364.3,427.1"/><polygon fill="#ff0000" points="350.6,423.6 360.4,423.2 361.4,429.1 351.6,429.1"/><polygon fill="#ff8080" points="356.5,382.0 413.4,382.0 413.4,400.6 376.1,400.6 364.3,401.6 358.4,389.8"/><polygon fill="#ff0000" points="360.4,385.9 372.2,385.9 373.1,393.8 361.4,393.8"/><polygon fill="#ff0000" points="376.1,382.0 387.9,382.0 387.9,387.9 377.1,387.9"/><polygon fill="#ff0000" points="391.8,384.0 403.5,384.0 403.5,393.8 392.8,393.8"/><polygon fill="#ffcccc" points="403.5,391.8 413.4,391.8 413.4,400.6 403.5,400.6"/><polygon fill="#ffcccc" points="376.1,400.6 413.4,400.6 413.4,438.9 376.1,438.9"/><polygon fill="#ff0000" points="382.9,403.6 389.8,403.6 390.8,421.2 384.9,421.2"/><polygon fill="#ff0000" points="394.7,403.6 401.6,403.6 401.6,411.4 395.7,411.4"/><polygon fill="#ff0000" points="399.6,422.2 407.5,422.2 407.5,431.0 400.6,431.0"/><polygon fill="#ff8080" points="377.1,421.2 383.9,421.2 384.9,436.9 378.0,436.9"/><polygon fill="#ff8080" points="391.8,413.4 399.6,413.4 399.6,421.2 392.8,421.2"/><polygon fill="#ccccff" points="376.1,405.1 380.4,405.1 380.4,408.7 376.1,408.7"/><polygon fill="#fff2dc" points="390.8,423.2 398.6,423.2 398.6,431.0 391.8,431.0"/><polygon fill="#fff2dc" points="415.3,382.0 452.0,382.0 452.0,389.8 415.3,389.8"/><polygon fill="#ff8080" points="425.1,384.0 434.9,384.0 434.9,389.8 425.1,389.8"/><polygon fill="#fff2dc" points="415.3,393.8 431.0,393.8 431.0,417.3 415.3,417.3"/><polygon fill="#ffcccc" points="419.2,399.7 427.1,399.7 427.1,411.4 419.2,411.4"/><polygon fill="#ccccff" points="433.0,397.7 441.8,397.7 441.8,405.5 433.0,405.5"/><polygon fill="#fff2dc" points="442.8,393.8 452.0,393.8 452.0,405.5 442.8,405.5"/><polygon fill="#ff8080" points="431.0,407.5 452.0,407.5 452.0,419.3 434.9,419.3"/><polygon fill="#ccccff" points="450.2,409.5 452.0,409.5 452.0,414.4 450.2,414.4"/><polygon fill="#ffcccc" points="413.4,419.3 452.0,419.3 452.0,448.7 413.4,448.7"/><polygon fill="#fff2dc" points="415.3,421.2 427.1,421.2 427.1,433.0 415.3,433.0"/><polygon fill="#ff8080" points="438.9,423.2 452.0,423.2 452.0,444.8 440.8,444.8"/><polygon fill="#ccccff" points="433.0,425.5 436.9,425.5 436.9,430.1 433.0,430.1"/><polygon fill="#ccccff" points="417.3,435.0 423.2,435.0 423.2,438.9 417.3,438.9"/><polygon fill="#ff8080" points="305.5,430.1 327.0,430.1 327.0,452.6 334.9,464.4 342.7,476.2 356.5,491.9 358.4,512.1 340.8,512.1 334.9,505.6 325.1,497.7 317.2,482.0 311.3,464.4 305.5,448.7"/><polygon fill="#ff0000" points="307.4,433.0 314.3,433.0 319.2,452.6 318.2,464.4 314.3,464.4 311.3,450.7"/><polygon fill="#b21a1a" points="311.3,446.7 315.3,446.7 318.2,460.5 315.3,461.4"/><polygon fill="#ffcccc" points="305.5,448.7 310.4,448.7 314.3,466.4 317.2,480.1 313.3,480.1 307.4,460.5"/><polygon fill="#fff2dc" points="317.2,431.0 325.1,431.0 325.1,446.7 320.2,446.7"/><polygon fill="#ff0000" points="328.0,450.7 332.9,452.6 336.9,466.4 338.8,480.1 335.9,484.0 331.9,474.2 328.0,464.4"/><polygon fill="#b21a1a" points="329.0,456.5 332.9,458.5 334.9,468.3 331.9,468.3"/><polygon fill="#ffff00" points="334.5,470.3 337.8,471.3 339.2,478.1 336.1,478.5"/><polygon fill="#ff8000" points="348.6,480.1 352.2,480.1 352.2,486.0 349.0,486.0"/><polygon fill="#ff0000" points="345.7,468.3 350.6,468.3 352.5,484.0 347.6,484.0"/><polygon fill="#ff0000" points="323.1,491.9 332.9,492.8 335.9,501.7 328.0,501.7"/><polygon fill="#ff0000" points="319.2,480.1 324.1,480.1 325.1,487.9 320.2,487.9"/><polygon fill="#ff8000" points="341.8,499.7 345.7,499.7 346.7,509.5 342.7,509.5"/><polygon fill="#b21a1a" points="344.3,501.7 347.6,501.7 348.2,507.5 344.7,507.5"/><polygon fill="#cdc855" points="343.7,503.6 346.3,503.6 346.3,507.5 343.7,507.5"/><polygon fill="#fff2dc" points="336.9,486.0 344.7,486.0 342.7,497.7 336.9,495.8"/><polygon fill="#fff2dc" points="323.1,474.2 329.0,474.2 331.0,484.0 325.1,486.0"/><polygon fill="#ffcccc" points="328.0,430.1 359.4,430.1 359.4,478.1 348.6,468.3 336.9,458.5 328.0,450.7"/><polygon fill="#fff2dc" points="329.0,431.0 340.8,431.0 342.7,442.8 332.9,446.7 329.0,440.9"/><polygon fill="#ff0000" points="350.6,431.0 358.4,431.0 358.8,456.5 353.5,456.5"/><polygon fill="#ff8080" points="336.9,444.8 345.7,444.8 345.7,453.6 337.8,453.6"/><polygon fill="#ff0000" points="340.8,446.7 344.7,446.7 344.7,450.7 340.8,450.7"/><polygon fill="#ff0000" points="345.7,466.4 351.6,468.3 353.5,484.0 348.6,484.0"/><polygon fill="#fff2dc" points="342.7,454.6 352.5,456.5 356.5,472.2 349.6,470.3"/><polygon fill="#ffcccc" points="359.4,429.1 386.9,429.1 386.9,478.1 359.4,478.1"/><polygon fill="#ff8080" points="361.4,431.0 376.1,431.0 378.0,440.9 362.4,440.9"/><polygon fill="#ff0000" points="377.1,436.9 384.9,436.9 384.9,452.6 379.0,452.6"/><polygon fill="#ff0000" points="369.2,454.6 377.1,454.6 378.0,468.3 370.2,469.3"/><polygon fill="#ff8000" points="371.8,458.5 375.1,458.5 375.1,464.4 371.8,464.4"/><polygon fill="#cdc855" points="372.6,461.4 374.9,461.4 374.9,465.4 372.6,465.4"/><polygon fill="#fff2dc" points="360.4,444.8 368.2,444.8 368.2,456.5 360.4,456.5"/><polygon fill="#ff8080" points="378.0,468.3 386.9,468.3 386.9,478.1 379.0,478.1"/><polygon fill="#ffcccc" points="386.9,438.9 424.1,438.9 424.1,478.1 386.9,478.1"/><polygon fill="#ff0000" points="400.6,440.9 407.5,440.9 407.5,464.4 401.6,464.4"/><polygon fill="#b21a1a" points="403.5,448.7 406.7,448.7 406.7,460.5 403.5,460.5"/><polygon fill="#ff8080" points="387.9,440.9 395.7,440.9 395.7,456.5 388.8,456.5"/><polygon fill="#ff0000" points="407.5,466.4 415.3,466.4 415.3,476.2 408.5,476.2"/><polygon fill="#ccccff" points="407.5,460.5 411.4,460.5 411.4,464.4 407.5,464.4"/><polygon fill="#fff2dc" points="411.4,440.9 423.2,440.9 423.2,456.5 413.4,456.5"/><polygon fill="#ff8080" points="424.1,448.7 452.0,448.7 452.0,478.1 424.1,478.1"/><polygon fill="#ff0000" points="440.8,448.7 452.0,448.7 452.0,476.2 442.8,476.2"/><polygon fill="#ffcccc" points="425.1,450.7 434.9,450.7 434.9,460.5 426.1,460.5"/><polygon fill="#ff8080" points="358.4,478.1 386.9,478.1 386.9,512.1 358.4,512.1"/><polygon fill="#ff0000" points="360.4,479.1 370.2,479.1 371.2,487.9 360.4,491.9"/><polygon fill="#ff0000" points="376.1,478.1 386.9,478.1 387.9,491.9 380.0,491.9"/><polygon fill="#ffff00" points="362.4,493.8 365.3,493.8 365.3,497.7 362.4,497.7"/><polygon fill="#ff0000" points="359.4,491.9 364.3,491.9 364.3,499.7 359.4,499.7"/><polygon fill="#ffcccc" points="370.2,491.9 380.0,491.9 380.0,512.1 370.2,512.1"/><polygon fill="#ffcccc" points="386.9,478.1 419.2,478.1 419.2,512.1 386.9,512.1"/><polygon fill="#ff0000" points="386.9,480.1 393.7,480.1 393.7,491.9 387.9,491.9"/><polygon fill="#fff2dc" points="395.7,484.0 411.4,484.0 411.4,499.7 395.7,499.7"/><polygon fill="#ff8080" points="403.5,501.7 415.3,501.7 415.3,512.1 403.5,512.1"/><polygon fill="#ff8080" points="419.2,478.1 452.0,478.1 452.0,512.1 419.2,512.1"/><polygon fill="#ff0000" points="427.1,480.1 435.9,480.1 435.9,491.9 428.1,491.9"/><polygon fill="#fff2dc" points="420.2,484.0 433.0,484.0 433.0,512.1 420.2,512.1"/><polygon fill="#ff0000" points="442.8,491.9 452.0,491.9 452.0,499.7 443.8,499.7"/><polygon fill="#fff" points="278.0,382.0 305.5,382.0 304.5,387.9 307.4,393.8 305.5,403.6 303.5,413.4 302.5,421.2 303.5,429.1 305.5,433.0 303.5,440.9 305.5,448.7 307.4,456.5 311.3,462.4 314.3,468.3 315.3,474.2 317.2,480.1 319.2,486.0 322.1,491.9 325.1,497.7 329.0,501.7 334.9,505.6 338.8,509.5 340.8,512.1 278.0,512.1"/><polygon fill="#fff2dc" points="301.1,393.8 304.5,393.8 303.1,413.4 301.1,413.4"/><polygon fill="#fff2dc" points="301.1,433.0 303.9,433.0 305.5,456.5 302.5,456.5"/></g>
<g clip-path="url(#cC3)"><rect x="452.0" y="382.0" width="174.0" height="130.1" fill="#fff2dc"/><polygon fill="#ffcccc" points="452.0,382.0 475.5,382.0 475.5,393.8 463.8,397.7 452.0,395.7"/><polygon fill="#ccccff" points="455.9,399.7 463.8,397.7 471.6,401.6 473.6,411.4 459.8,411.4"/><polygon fill="#ccccff" points="452.0,413.4 489.3,413.4 489.3,440.9 452.0,440.9"/><polygon fill="#fff2dc" points="463.8,427.1 473.6,427.1 473.6,440.9 461.8,440.9"/><polygon fill="#0000ff" points="456.9,415.0 463.8,415.0 463.8,422.2 457.5,422.2"/><polygon fill="#8080ff" points="471.6,417.3 481.4,417.3 481.4,430.1 472.6,430.1"/><polygon fill="#000090" points="474.6,419.3 479.9,419.3 479.9,426.1 475.1,426.1"/><polygon fill="#ffcccc" points="452.0,427.1 459.8,427.1 459.8,440.9 452.0,440.9"/><polygon fill="#ff8080" points="452.0,440.9 491.2,440.9 493.2,480.1 452.0,480.1"/><polygon fill="#ff0000" points="452.0,448.7 461.8,447.7 462.8,465.4 452.0,466.4"/><polygon fill="#ff0000" points="467.7,464.4 485.3,465.4 486.3,480.1 468.7,480.1"/><polygon fill="#b21a1a" points="469.7,472.2 474.0,472.2 474.0,478.5 470.0,478.5"/><polygon fill="#ffcccc" points="463.8,446.7 479.5,444.8 481.4,460.5 465.7,462.4"/><polygon fill="#ff0000" points="483.4,442.8 501.0,440.9 502.0,460.5 491.2,462.4 484.4,454.6"/><polygon fill="#ff8080" points="452.0,480.1 489.3,480.1 487.3,512.1 452.0,512.1"/><polygon fill="#ff0000" points="452.0,484.0 459.8,484.0 459.8,495.8 452.0,497.7"/><polygon fill="#ffcccc" points="463.8,486.0 479.5,486.0 479.5,499.7 463.8,499.7"/><polygon fill="#fff2dc" points="467.7,501.7 483.4,501.7 483.4,512.1 467.7,512.1"/><polygon fill="#ffcccc" points="477.5,387.9 501.0,387.9 505.0,425.2 487.3,425.2 479.5,411.4"/><polygon fill="#ccccff" points="489.3,393.8 499.1,393.8 501.0,409.5 491.2,409.5"/><polygon fill="#fff2dc" points="479.5,411.4 489.3,411.4 489.3,421.2 481.4,421.2"/><polygon fill="#8080ff" points="502.0,421.2 507.9,421.2 507.9,431.0 502.6,431.0"/><polygon fill="#ffcccc" points="510.9,382.0 599.1,382.0 597.2,397.7 579.5,403.6 561.9,407.5 550.1,403.6 546.2,393.8 530.5,389.8"/><polygon fill="#fff2dc" points="520.7,385.9 534.4,382.0 538.3,389.8 526.5,391.8"/><polygon fill="#fff2dc" points="569.7,385.9 589.3,385.9 587.4,395.7 571.7,395.7"/><polygon fill="#ff8080" points="557.9,387.9 565.8,387.9 565.8,395.7 558.9,395.7"/><polygon fill="#ffcccc" points="508.9,399.7 524.6,395.7 528.5,407.5 530.5,421.2 526.5,429.1 510.9,431.0 507.9,417.3"/><polygon fill="#ff8080" points="512.8,421.2 526.5,419.3 528.5,429.1 514.8,430.1"/><polygon fill="#ff0000" points="527.5,415.3 535.4,415.3 536.4,424.2 528.5,426.1"/><polygon fill="#ffcccc" points="536.4,407.5 546.2,411.4 550.1,421.2 540.3,423.2"/><polygon fill="#ff8080" points="557.9,407.5 567.7,407.5 567.7,419.3 558.9,419.3"/><polygon fill="#ff0000" points="560.9,413.4 565.8,411.4 566.8,418.3 561.9,418.3"/><polygon fill="#ffcccc" points="489.3,429.1 518.7,431.0 518.7,460.5 501.0,474.2 493.2,476.2 491.2,460.5 503.0,460.5 501.0,440.9 489.3,440.9"/><polygon fill="#ff8080" points="503.0,433.0 516.7,432.0 517.7,444.8 504.0,442.8"/><polygon fill="#ccccff" points="506.9,448.7 512.8,448.7 512.8,464.4 507.9,464.4"/><polygon fill="#fff2dc" points="491.2,460.5 503.0,460.5 503.0,474.2 493.2,476.2"/><polygon fill="#ccccff" points="518.7,431.0 542.2,431.0 544.2,460.5 530.5,464.4 518.7,460.5"/><polygon fill="#fff2dc" points="522.6,433.0 534.4,433.0 534.4,440.9 523.6,440.9"/><polygon fill="#8080ff" points="520.7,448.7 534.4,452.6 536.4,460.5 526.5,464.4 520.7,458.5"/><polygon fill="#ccccff" points="499.1,456.5 542.2,456.5 544.2,482.0 499.1,482.0"/><polygon fill="#8080ff" points="506.9,464.4 530.5,460.5 534.4,474.2 528.5,480.1 505.0,480.1 503.0,472.2"/><polygon fill="#fff2dc" points="501.0,476.2 510.9,476.2 510.9,482.0 501.0,482.0"/><polygon fill="#8080ff" points="532.4,452.6 546.2,451.6 548.1,472.2 534.4,474.2"/><polygon fill="#0000ff" points="530.5,462.4 533.4,462.4 533.4,468.3 530.9,468.3"/><polygon fill="#0000ff" points="521.6,453.6 524.2,453.6 524.2,456.5 521.6,456.5"/><polygon fill="#ccccff" points="542.2,429.1 569.7,429.1 569.7,436.9 561.9,450.7 542.2,450.7"/><polygon fill="#8080ff" points="546.2,431.0 552.0,431.0 552.0,438.9 546.2,438.9"/><polygon fill="#fff2dc" points="561.9,431.0 573.6,431.0 573.6,448.7 563.8,448.7"/><polygon fill="#ffcccc" points="546.2,397.7 579.5,401.6 577.5,409.5 561.9,407.5 546.2,407.5"/><polygon fill="#ccccff" points="567.7,409.5 579.5,409.5 579.5,429.1 569.7,429.1"/><polygon fill="#ccccff" points="579.5,397.7 601.1,393.8 620.7,393.8 618.7,405.5 605.0,415.3 597.2,423.2 593.2,433.0 581.5,436.9 577.5,421.2"/><polygon fill="#8080ff" points="589.3,399.7 597.2,397.7 599.1,409.5 591.3,413.4"/><polygon fill="#8080ff" points="605.0,403.6 614.8,399.7 616.8,407.5 607.0,411.4"/><polygon fill="#0000ff" points="587.4,435.0 592.3,435.0 592.3,438.9 587.7,438.9"/><polygon fill="#fff2dc" points="597.2,385.9 608.9,382.0 626.0,382.0 626.0,393.8 612.9,395.7"/><polygon fill="#ccccff" points="618.7,401.6 626.0,397.7 626.0,411.4 620.7,413.4"/><polygon fill="#8080ff" points="620.7,403.6 626.0,401.6 626.0,409.5"/><polygon fill="#ccccff" points="548.1,458.5 561.9,456.5 563.8,480.1 548.1,482.0"/><polygon fill="#ccccff" points="561.9,450.7 571.7,450.7 571.7,472.2 563.8,472.2"/><polygon fill="#0000ff" points="564.2,462.4 567.7,462.4 567.7,468.3 564.8,468.3"/><polygon fill="#fff2dc" points="538.3,474.2 548.1,474.2 548.1,482.0 538.3,482.0"/><polygon fill="#ffcccc" points="526.5,482.0 569.7,482.0 569.7,503.6 550.1,512.1 528.5,499.7"/><polygon fill="#ff0000" points="523.6,491.9 534.4,482.0 538.3,484.0 528.5,496.8 524.6,496.8"/><polygon fill="#ff0000" points="550.1,499.7 561.9,490.9 567.7,493.8 557.9,505.6 548.1,512.1 544.2,512.1"/><polygon fill="#fff2dc" points="540.3,486.0 554.0,486.0 554.0,495.8 541.3,495.8"/><polygon fill="#ccccff" points="550.1,484.0 557.9,484.0 557.9,491.9 551.1,491.9"/><polygon fill="#ccccff" points="489.3,482.0 526.5,482.0 526.5,491.9 489.3,491.9"/><polygon fill="#fff2dc" points="497.1,484.0 516.7,484.0 516.7,489.9 497.1,489.9"/><polygon fill="#ccccff" points="491.2,499.7 503.0,499.7 503.0,512.1 491.2,512.1"/><polygon fill="#ffcccc" points="510.9,497.7 522.6,497.7 526.5,512.1 510.9,512.1"/><polygon fill="#ccccff" points="503.0,503.6 510.9,503.6 510.9,512.1 503.0,512.1"/><polygon fill="#ff8080" points="526.5,503.6 536.4,503.6 538.3,512.1 526.5,512.1"/><polygon fill="#fff" points="626.0,393.8 620.7,401.6 612.9,407.5 605.0,413.4 597.2,421.2 599.1,429.1 593.2,435.0 585.4,436.9 579.5,442.8 575.6,446.7 573.6,452.6 569.7,454.6 567.7,464.4 565.8,474.2 567.7,484.0 569.7,491.9 565.8,497.7 557.9,503.6 550.1,512.1 626.0,512.1"/><polygon fill="#ccccff" points="616.8,409.5 626.0,407.5 626.0,413.4 620.7,415.3"/></g>
<g clip-path="url(#cC4)"><rect x="626.0" y="382.0" width="174.0" height="130.1" fill="#fff"/><polygon fill="#ccccff" points="626.0,389.8 637.8,385.9 649.5,385.9 653.5,389.8 645.6,397.7 633.8,405.5 626.0,409.5"/><polygon fill="#8080ff" points="626.0,401.6 637.8,393.8 645.6,393.8 647.6,399.7 635.8,405.5 626.0,409.5"/><polygon fill="#0000ff" points="628.0,405.5 637.8,401.6 645.6,397.7 647.6,400.6 637.8,404.6 629.9,409.5"/><polygon fill="#8080ff" points="670.1,382.0 675.0,382.0 674.1,384.9 670.7,384.4"/><polygon fill="#ccccff" points="682.9,383.0 690.7,382.0 689.8,386.9 683.9,386.9"/></g>
<g clip-path="url(#cD1)"><rect x="104.0" y="512.0" width="174.0" height="130.1" fill="#fff"/></g>
<g clip-path="url(#cD2)"><rect x="278.0" y="512.0" width="174.0" height="130.1" fill="#fff"/><polygon fill="#ffcccc" points="336.9,512.0 452.0,512.0 452.0,589.5 431.0,592.4 403.5,595.4 389.8,594.4 383.9,590.5 380.0,604.2 370.2,604.2 362.4,578.7 354.5,565.0 346.7,541.4 340.8,523.8"/><polygon fill="#ff8080" points="342.7,512.0 383.9,512.0 385.9,531.6 372.2,531.6 356.5,527.7 348.6,519.8"/><polygon fill="#ff0000" points="344.7,512.0 348.6,512.0 352.5,523.8 356.5,533.6 353.5,535.5 349.6,525.7"/><polygon fill="#fff2dc" points="356.5,512.0 364.3,512.0 364.3,517.9 357.4,517.9"/><polygon fill="#ff0000" points="372.2,515.9 380.0,515.9 382.0,523.8 374.1,525.7"/><polygon fill="#ffcccc" points="387.9,512.0 415.3,512.0 415.3,529.7 399.6,527.7 387.9,531.6"/><polygon fill="#ff8080" points="387.9,515.9 399.6,515.9 399.6,523.8 388.8,523.8"/><polygon fill="#fff2dc" points="415.3,512.0 452.0,512.0 452.0,549.3 433.0,549.3 427.1,541.4 415.3,535.5"/><polygon fill="#ccccff" points="439.8,519.8 448.7,519.8 448.7,531.6 440.8,531.6"/><polygon fill="#ffcccc" points="415.3,523.8 427.1,523.8 429.0,539.5 419.2,539.5"/><polygon fill="#ff0000" points="376.1,533.6 395.7,533.6 411.4,545.3 423.2,551.2 433.0,557.1 440.8,570.9 448.7,586.5 452.0,589.5 431.0,592.4 403.5,595.4 391.8,592.4 387.9,578.7 383.9,563.0 380.0,547.3"/><polygon fill="#ff8080" points="376.1,533.6 387.9,533.6 387.9,543.4 378.0,543.4"/><polygon fill="#ffcccc" points="399.6,539.5 411.4,545.3 413.4,557.1 403.5,563.0 397.7,551.2"/><polygon fill="#ffcccc" points="415.3,557.1 427.1,557.1 427.1,568.9 415.3,570.9"/><polygon fill="#b21a1a" points="387.9,557.1 395.7,555.2 397.7,563.0 389.8,565.0"/><polygon fill="#ff8000" points="390.8,559.1 397.7,559.1 401.6,570.9 403.5,586.5 399.6,590.5 395.7,576.7"/><polygon fill="#ffff00" points="392.8,562.0 396.7,563.0 400.6,576.7 400.6,584.6 397.7,584.6 394.7,572.8"/><polygon fill="#b21a1a" points="407.5,574.8 419.2,576.7 421.2,590.5 411.4,591.4"/><polygon fill="#ff8000" points="423.2,576.7 427.1,576.7 427.1,586.5 423.6,586.5"/><polygon fill="#ff8080" points="403.5,563.0 415.3,563.0 415.3,574.8 405.5,574.8"/><polygon fill="#b21a1a" points="434.9,559.1 452.0,559.1 452.0,584.6 440.8,582.6 436.9,570.9"/><polygon fill="#ff8000" points="440.8,581.6 449.6,581.6 449.6,590.5 441.8,590.5"/><polygon fill="#ff0000" points="446.7,551.2 452.0,551.2 452.0,559.1 446.7,559.1"/><polygon fill="#0000ff" points="388.8,592.4 398.6,592.4 399.6,599.3 390.8,600.3"/><polygon fill="#fff" points="356.5,529.7 358.4,530.6 356.5,541.4 362.4,551.2 365.3,557.1 368.2,563.0 372.2,570.9 373.1,578.7 374.1,586.5 376.1,596.4 380.0,604.2 382.9,610.1 384.9,611.1 387.9,600.3 384.9,586.5 380.0,574.8 376.1,565.0 372.2,557.1 370.2,549.3 366.3,539.5 362.4,531.6"/><polygon fill="#fff" points="278.0,512.0 340.8,512.0 342.7,517.9 346.7,527.7 350.6,537.5 351.6,547.3 355.5,553.2 358.4,561.0 356.5,568.9 360.4,572.8 364.3,576.7 367.3,582.6 369.2,588.5 368.2,596.4 372.2,600.3 378.0,608.1 382.0,616.0 382.0,642.1 278.0,642.1"/><polygon fill="#fff" points="342.7,517.9 346.7,527.7 350.6,537.5 351.6,547.3 355.5,553.2 358.4,561.0 356.5,568.9 360.4,572.8 364.3,576.7 367.3,582.6 369.2,588.5 368.2,596.4 372.2,600.3 378.0,608.1 382.0,616.0 382.9,610.1 380.0,604.2 376.1,596.4 374.1,586.5 373.1,578.7 372.2,570.9 368.2,563.0 365.3,557.1 362.4,551.2 356.5,541.4 358.4,530.6 355.5,529.7"/><polygon fill="#ccccff" points="355.5,529.7 362.4,530.6 364.3,537.5 357.4,539.5"/><polygon fill="#fff2dc" points="336.9,515.9 341.2,515.9 345.7,529.7 349.6,541.4 350.2,549.3 353.5,555.2 356.1,563.0 354.9,570.9 360.4,576.7 364.3,582.6 366.7,590.5 367.3,598.3 364.3,598.3 361.4,586.5 356.5,578.7 352.2,570.9 350.6,559.1 346.7,547.3 342.7,533.6"/><polygon fill="#ccccff" points="362.4,531.6 370.2,533.6 376.1,547.3 382.0,561.0 387.9,572.8 391.8,584.6 395.7,592.4 389.8,593.4 384.9,586.5 383.9,578.7 380.0,572.8 376.1,565.0 372.2,557.1 370.2,549.3 366.3,539.5"/><polygon fill="#8080ff" points="372.2,557.1 376.1,557.1 382.0,568.9 387.9,578.7 390.8,588.5 385.5,587.5 383.9,578.7 380.0,572.8 376.1,565.0"/><polygon fill="#0000ff" points="388.8,592.4 398.6,592.4 399.6,599.3 390.8,600.3"/></g>
<g clip-path="url(#cD3)"><rect x="452.0" y="512.0" width="174.0" height="130.1" fill="#fff"/><polygon fill="#ffcccc" points="452.0,512.0 452.0,563.0 455.9,559.1 459.8,553.2 463.8,549.3 467.7,548.3 473.6,549.3 479.5,548.3 483.4,551.2 485.3,553.2 489.3,554.2 493.2,553.2 493.2,549.3 494.2,545.3 499.1,543.4 508.9,541.4 514.8,543.4 518.7,547.3 522.6,546.3 525.6,549.3 528.5,555.2 528.5,563.0 529.5,570.9 530.5,578.7 532.4,584.6 536.4,590.5 539.3,592.4 542.2,589.5 543.2,578.7 542.2,568.9 541.3,561.0 539.3,551.2 537.3,543.4 536.4,533.6 537.3,527.7 539.3,523.8 543.2,517.9 546.2,514.0 548.1,512.0"/><polygon fill="#fff2dc" points="452.0,512.0 467.7,512.0 468.7,539.5 459.8,541.4 452.0,535.5"/><polygon fill="#ffcccc" points="455.9,519.8 463.8,519.8 463.8,531.6 455.9,531.6"/><polygon fill="#fff2dc" points="469.7,515.9 481.4,515.9 481.4,539.5 470.6,539.5"/><polygon fill="#ff8080" points="481.4,512.0 499.1,512.0 499.1,523.8 493.2,539.5 483.4,541.4"/><polygon fill="#ccccff" points="494.2,523.8 499.5,523.8 499.5,539.5 494.8,539.5"/><polygon fill="#ff8080" points="501.0,512.0 516.7,512.0 516.7,537.5 501.0,537.5"/><polygon fill="#ffcccc" points="505.0,517.9 512.8,517.9 512.8,529.7 505.0,529.7"/><polygon fill="#ccccff" points="518.7,512.0 534.4,512.0 534.4,523.8 520.7,523.8"/><polygon fill="#fff2dc" points="516.7,523.8 536.4,523.8 536.4,539.5 518.7,539.5"/><polygon fill="#ff8080" points="526.5,525.7 536.4,525.7 538.3,539.5 528.5,539.5"/><polygon fill="#ff0000" points="538.3,512.0 548.1,512.0 544.2,519.8 538.3,523.8"/><polygon fill="#b21a1a" points="541.3,512.0 548.1,512.0 545.2,515.9 542.2,515.9"/><polygon fill="#ff0000" points="452.0,547.3 461.8,546.3 463.8,551.2 455.9,559.1 452.0,563.0"/><polygon fill="#ff0000" points="483.4,541.4 491.2,541.4 493.2,553.2 485.3,554.2"/><polygon fill="#b21a1a" points="485.3,545.3 491.2,544.4 492.2,553.2 486.3,553.6"/><polygon fill="#ff0000" points="498.7,543.8 502.6,543.8 502.6,547.7 499.1,547.7"/><polygon fill="#ff8080" points="463.8,541.4 481.4,541.4 481.4,549.3 463.8,549.3"/><polygon fill="#ff8080" points="526.5,541.4 538.3,541.4 540.3,561.0 530.5,561.0 526.5,551.2"/><polygon fill="#ff8080" points="530.5,561.0 541.3,561.0 542.6,578.7 541.3,590.5 538.3,592.4 534.4,586.5 531.4,574.8"/><polygon fill="#ff0000" points="530.5,566.9 536.4,565.0 539.3,570.9 538.3,576.7 542.2,578.7 541.3,590.5 538.3,592.4 534.4,586.5 531.4,574.8"/><polygon fill="#ffcccc" points="538.3,563.0 541.3,563.0 541.8,570.9 538.7,570.9"/><polygon fill="#ff8000" points="534.4,556.1 538.7,556.1 538.7,561.0 534.8,561.0"/><polygon fill="#0000ff" points="530.1,578.7 534.4,578.7 535.4,586.5 530.9,586.2"/><polygon fill="#ccccff" points="532.4,586.5 538.3,588.5 539.3,594.4 534.4,594.4"/><polygon fill="#ccccff" points="518.3,545.7 525.0,546.9 524.6,550.8 519.7,550.3"/><polygon fill="#ff8000" points="537.3,589.5 540.3,589.5 540.3,592.8 537.7,592.8"/><polygon fill="#fff" points="534.6,548.3 538.3,559.3 541.1,571.2 542.8,585.0 542.0,590.5 542.6,589.5 543.6,578.7 542.6,568.9 541.6,561.0 539.7,551.2 537.7,543.4"/><polygon fill="#ff0000" points="534.4,551.2 538.3,557.1 536.4,563.0 533.4,559.1"/><polygon fill="#ccccff" points="556.9,589.5 559.9,589.5 560.3,594.4 557.1,594.4"/><polygon fill="#ffff00" points="564.8,609.1 567.7,609.1 567.7,613.0 565.2,613.0"/><polygon fill="#ff0000" points="574.0,617.9 576.6,617.9 576.6,620.9 574.2,620.9"/></g>
<g clip-path="url(#cAK)"><rect x="104.0" y="220.0" width="100.0" height="70.0" fill="#fff"/><polygon fill="#ffcccc" points="120.9,290.0 126.5,280.9 133.3,270.7 137.8,262.8 143.5,253.8 149.1,244.8 154.7,236.9 161.5,230.1 168.3,222.3 170.5,220.0 204.0,220.0 204.0,253.8 194.2,254.4 187.4,249.9 182.9,247.6 176.2,252.7 171.6,254.9 167.1,257.2 160.4,262.8 155.9,265.1 151.4,261.7 148.5,260.0 146.3,263.4 143.5,267.4 137.8,273.0 133.3,277.5 128.8,283.1 125.4,287.6 123.7,290.0"/><polygon fill="#fff2dc" points="185.2,225.6 193.1,222.3 199.8,227.9 194.2,234.7 187.4,232.4"/><polygon fill="#fff2dc" points="196.4,242.5 204.0,239.2 204.0,247.6 199.8,247.6"/><polygon fill="#ff8080" points="181.8,220.0 191.9,220.0 196.4,224.5 193.1,229.0 189.7,226.8 182.9,224.5"/><polygon fill="#ff8080" points="191.9,229.0 199.8,226.8 204.0,230.1 204.0,238.0 196.4,242.5 191.9,238.0"/><polygon fill="#ff8080" points="125.4,285.4 128.8,279.8 133.3,273.0 137.8,266.2 141.8,263.4 144.6,266.2 140.1,270.7 135.6,276.4 131.1,281.4 127.7,286.5"/><polygon fill="#ff8080" points="187.4,245.9 194.2,248.2 197.6,253.8 193.1,253.8 188.6,249.9"/><polygon fill="#ff0000" points="134.4,265.1 137.8,260.6 141.2,256.1 144.6,250.4 146.8,247.1 151.4,240.3 157.0,234.7 164.9,226.8 171.6,222.3 181.8,220.6 183.5,225.6 187.4,231.3 189.7,240.3 188.0,245.9 182.9,248.7 177.3,253.3 171.6,255.2 165.4,258.3 158.7,261.9 154.2,260.8 150.8,258.3 148.0,258.9 144.6,261.7 141.2,263.4 137.8,264.5"/><polygon fill="#ff8000" points="145.7,247.1 151.4,238.0 154.7,239.2 153.6,245.9 151.4,252.7 148.0,253.8 145.1,251.0"/><polygon fill="#ff8000" points="170.5,227.9 176.2,226.8 177.3,231.3 172.8,233.0 169.4,230.7"/><polygon fill="#ff8000" points="173.9,243.7 180.7,243.1 185.2,247.1 181.8,249.5 176.2,250.4 173.9,249.1"/><polygon fill="#b21a1a" points="168.3,232.4 176.2,230.7 182.9,233.5 181.8,238.0 176.2,239.2 169.4,236.9"/><polygon fill="#b21a1a" points="155.9,233.5 159.2,234.7 158.1,238.0 154.7,236.9"/><polygon fill="#b21a1a" points="162.6,243.7 167.1,243.7 167.1,248.2 162.6,248.2"/><polygon fill="#b21a1a" points="177.3,249.5 182.9,249.5 181.8,253.8 178.4,253.8"/><polygon fill="#ffcccc" points="155.9,252.7 160.4,251.6 162.6,254.9 159.2,257.2 155.9,256.1"/><polygon fill="#ffcccc" points="137.8,280.3 141.2,285.4 144.6,284.3 146.8,280.9 151.4,278.6 151.4,273.0 152.5,270.7 150.2,269.6 146.8,271.9 142.3,275.2"/><polygon fill="#ff8080" points="142.9,276.4 147.4,274.7 149.7,276.4 146.8,279.8 143.5,279.8"/></g>
<g clip-path="url(#cX1)"><rect x="278.0" y="122.0" width="100.0" height="63.1" fill="#fff"/><polygon fill="#ffcccc" points="278.0,155.8 282.5,154.7 283.6,150.7 289.3,154.1 293.8,160.9 298.3,161.5 301.7,156.4 304.5,161.5 307.3,162.0 310.1,158.1 318.6,157.5 323.1,159.2 328.7,162.6 336.6,164.3 345.6,166.5 355.8,168.2 358.6,171.6 353.5,173.3 353.0,177.2 359.2,177.8 368.2,177.2 378.0,176.1 378.0,200.0 278.0,200.0"/><polygon fill="#fff2dc" points="337.8,130.5 345.6,127.6 355.8,124.3 361.4,128.8 363.7,129.9 373.8,128.8 378.0,128.2 378.0,169.4 373.8,169.4 363.7,168.2 360.3,164.3 351.3,162.0 345.6,159.2 344.5,154.7 356.9,154.1 365.9,151.5 354.7,149.6 341.1,147.9 338.9,146.2 339.4,142.9 336.6,141.7 332.1,139.5 333.8,135.5"/><polygon fill="#ffcccc" points="364.8,145.7 370.4,138.9 378.0,137.8 378.0,167.1 368.2,164.8 363.7,155.8"/><polygon fill="#fff2dc" points="302.8,142.3 311.8,138.9 325.4,135.5 327.6,138.9 323.1,142.9 311.8,145.7 305.1,144.5"/><polygon fill="#fff2dc" points="332.1,144.5 338.9,146.8 341.1,155.8 336.6,159.2 332.1,153.6"/><polygon fill="#fff2dc" points="336.6,154.7 345.6,155.8 350.2,162.6 356.9,167.1 350.2,169.4 341.1,167.1 336.6,162.6"/><polygon fill="#fff2dc" points="365.9,177.2 378.0,176.1 378.0,181.8 368.2,181.8"/><polygon fill="#fff2dc" points="278.0,167.1 282.5,166.5 285.9,171.6 282.5,173.9 278.0,173.3"/><polygon fill="#fff2dc" points="307.3,162.6 315.2,161.5 320.8,167.1 325.4,171.6 327.6,178.4 320.8,180.6 316.3,175.0 311.8,170.5 308.4,167.1"/><polygon fill="#ff8080" points="278.0,178.4 282.5,177.8 288.1,182.9 292.7,188.5 290.4,193.0 283.6,194.2 278.0,189.6"/><polygon fill="#ff8080" points="290.4,194.2 294.9,193.0 299.4,197.0 294.9,199.8"/></g>
<g clip-path="url(#cX2)"><rect x="590.0" y="330.0" width="110.0" height="90.0" fill="#fff"/><polygon fill="#fff2dc" points="590.0,330.0 676.8,330.0 670.6,336.2 663.2,338.7 657.0,344.9 652.0,349.2 642.1,349.8 630.9,347.4 621.0,348.6 614.8,351.1 608.6,360.4 603.6,366.0 597.4,374.6 592.5,382.1 590.0,383.3"/><polygon fill="#ffcccc" points="590.0,330.0 606.1,330.0 604.9,339.9 602.4,349.8 597.4,361.0 593.7,370.9 590.0,377.1"/><polygon fill="#ffcccc" points="606.1,330.0 622.2,330.0 619.8,339.9 614.8,348.6 608.6,354.8 604.9,349.8"/><polygon fill="#ccccff" points="623.5,330.0 670.6,330.0 666.9,333.7 659.4,337.4 647.0,342.4 637.1,343.6 623.5,342.4"/><polygon fill="#ff8080" points="590.0,359.8 592.5,359.8 592.5,366.0 590.0,366.0"/><polygon fill="#fff2dc" points="590.0,384.6 593.7,382.1 602.4,370.9 608.6,363.5 617.3,359.8 626.0,359.1 629.7,362.2 626.0,367.2 619.8,369.7 626.0,373.4 627.2,382.1 632.2,389.5 639.6,392.0 643.3,392.0 649.5,380.8 653.2,389.5 648.3,394.5 643.3,399.4 634.6,405.6 627.2,410.6 622.2,414.3 619.8,409.4 623.5,404.4 627.2,395.7 621.0,398.2 614.8,401.9 607.4,406.9 597.4,414.3 595.0,420.0 590.0,420.0"/><polygon fill="#ffcccc" points="597.4,377.1 606.1,364.7 614.8,361.0 622.2,361.0 619.8,367.2 614.8,374.6 608.6,382.1 602.4,392.0 597.4,399.4 593.7,394.5 595.0,385.8"/><polygon fill="#ff8080" points="606.1,366.0 612.3,364.1 614.2,370.9 610.5,375.3 606.7,373.4"/><polygon fill="#ccccff" points="614.8,366.0 624.7,362.2 627.2,367.2 622.2,370.9 617.3,372.2"/><polygon fill="#ccccff" points="590.0,389.5 597.4,387.0 599.9,399.4 602.4,409.4 597.4,415.6 590.0,416.8"/><polygon fill="#8080ff" points="590.0,397.0 595.0,397.0 596.2,409.4 592.5,419.3 590.0,420.0"/><polygon fill="#ccccff" points="606.1,399.4 614.8,397.0 627.2,393.2 632.2,392.0 642.1,389.5 649.5,387.0 653.2,389.5 648.3,394.5 643.3,399.4 634.6,405.6 627.2,410.6 622.2,414.3 619.8,409.4 623.5,404.4 621.0,399.4 614.8,403.2 607.4,406.9 602.4,404.4"/><polygon fill="#8080ff" points="617.3,398.2 627.2,394.5 629.7,399.4 623.5,404.4 618.5,404.4"/><polygon fill="#8080ff" points="630.9,399.4 642.1,392.0 648.3,390.8 649.5,394.5 643.3,399.4 634.6,405.6 629.7,406.9"/><polygon fill="#0000ff" points="630.9,404.4 639.6,399.4 644.6,395.7 648.3,398.2 642.1,403.2 633.4,408.1 629.7,408.1"/><polygon fill="#fff2dc" points="657.0,372.2 659.4,367.2 661.9,361.0 665.6,354.8 669.4,348.6 671.8,342.4 676.8,336.2 676.8,339.9 674.3,347.4 671.8,352.3 676.8,352.3 679.3,354.8 683.0,356.0 688.0,357.3 689.2,362.2 689.2,366.0 691.7,369.7 692.9,373.4 690.5,377.1 689.2,382.1 686.7,384.6 683.0,382.1 679.3,380.8 674.3,382.1 670.6,377.1 664.4,374.6"/><polygon fill="#ffcccc" points="659.4,367.2 664.4,357.3 669.4,351.1 674.3,353.6 671.8,362.2 666.9,370.9 661.9,373.4"/><polygon fill="#ff0000" points="660.1,365.3 663.2,365.3 663.2,367.8 660.1,367.8"/><polygon fill="#ccccff" points="664.4,372.2 674.3,369.7 684.3,370.9 690.5,374.6 690.5,385.8 683.0,382.1 674.3,383.3 669.4,379.6"/><polygon fill="#8080ff" points="669.4,375.9 676.8,375.9 676.8,383.3 671.8,384.6"/><polygon fill="#ffcccc" points="674.3,356.0 684.3,357.3 686.7,363.5 679.3,364.7"/><polygon fill="#ccccff" points="654.5,364.7 658.2,364.7 658.2,368.4 654.5,368.4"/></g>
<g clip-path="url(#cX3)"><rect x="400.0" y="500.0" width="110.0" height="99.9" fill="#fff"/><polygon fill="#fff2dc" points="400.0,500.0 510.0,500.0 510.0,540.5 507.1,541.8 504.5,541.8 501.9,543.1 498.0,541.8 494.1,540.5 491.4,543.1 492.8,552.3 494.1,556.2 491.4,552.3 488.8,554.9 484.9,554.9 483.6,552.3 481.0,547.7 478.4,549.6 474.5,549.0 471.2,547.7 467.9,548.3 464.7,549.6 464.0,552.3 461.4,556.2 457.5,560.1 453.6,564.0 451.0,569.2 450.3,578.4 451.0,586.2 450.3,591.4 449.6,599.9 449.6,599.9 449.6,594.1 432.7,592.8 413.1,592.1 400.0,591.4"/><polygon fill="#ffcccc" points="400.0,500.0 465.3,500.0 465.3,509.1 439.2,507.8 419.6,506.5 400.0,507.8"/><polygon fill="#ff8080" points="439.2,500.0 460.1,500.0 457.5,507.8 443.1,506.5"/><polygon fill="#ffcccc" points="400.0,507.8 419.6,507.8 419.6,526.1 400.0,526.1"/><polygon fill="#ff0000" points="402.6,510.5 406.5,510.5 406.5,514.4 402.6,514.4"/><polygon fill="#ffcccc" points="419.6,507.8 439.2,509.1 439.2,519.6 420.9,526.1"/><polygon fill="#ccccff" points="439.2,519.6 449.6,519.6 449.6,537.9 441.8,537.9"/><polygon fill="#ffcccc" points="449.6,513.1 467.9,513.1 469.2,541.8 454.9,543.1 449.6,539.2"/><polygon fill="#fff2dc" points="452.3,519.6 461.4,519.6 461.4,536.6 453.6,536.6"/><polygon fill="#ffcccc" points="400.0,526.1 413.1,527.4 411.8,541.8 400.0,543.1"/><polygon fill="#ff0000" points="411.8,537.9 415.0,537.9 415.0,541.8 412.0,541.8"/><polygon fill="#ffcccc" points="426.1,535.3 439.2,536.6 439.2,548.3 430.0,549.6 426.1,543.1"/><polygon fill="#ff8080" points="449.6,541.8 462.7,540.5 465.3,547.0 461.4,556.2 453.6,564.0 451.0,567.9 445.7,561.4 439.2,552.3"/><polygon fill="#ff0000" points="453.6,547.0 461.4,547.0 462.7,553.6 457.5,558.8 454.2,554.9"/><polygon fill="#ff8080" points="430.0,549.6 441.8,551.0 449.6,562.7 451.0,573.2 450.3,584.9 448.3,591.4 443.1,591.4 439.2,578.4 434.0,562.7"/><polygon fill="#ff0000" points="431.4,549.6 435.3,551.0 439.2,561.4 443.1,570.5 447.0,578.4 449.6,584.9 449.6,591.4 444.4,591.4 440.5,581.0 436.6,570.5 432.7,560.1"/><polygon fill="#b21a1a" points="436.6,561.4 440.5,561.4 444.4,573.2 445.7,581.0 443.1,581.0 439.2,570.5"/><polygon fill="#ff8000" points="443.1,583.6 449.6,584.9 449.6,591.4 443.1,591.4"/><polygon fill="#ff0000" points="400.0,544.4 407.8,544.4 413.1,552.3 418.3,554.9 430.0,551.0 434.0,561.4 439.2,573.2 443.1,583.6 443.1,591.4 432.7,592.8 413.1,592.1 400.0,591.4"/><polygon fill="#ffcccc" points="410.5,557.5 420.9,557.5 426.1,565.3 423.5,573.2 413.1,573.2"/><polygon fill="#ffcccc" points="426.1,573.2 434.0,573.2 436.6,583.6 428.7,583.6"/><polygon fill="#b21a1a" points="402.6,556.2 407.8,556.2 407.8,567.9 402.6,567.9"/><polygon fill="#b21a1a" points="415.7,573.2 423.5,573.2 426.1,588.8 418.3,590.1"/><polygon fill="#ff8000" points="400.0,573.2 405.2,573.2 405.2,583.6 401.3,583.6"/><polygon fill="#ffff00" points="400.0,578.4 402.6,578.4 402.6,588.8 400.0,588.8"/><polygon fill="#ff8000" points="413.1,578.4 418.3,578.4 418.3,591.4 414.4,591.4"/><polygon fill="#cdc855" points="428.7,557.5 432.0,557.5 432.0,562.7 429.0,562.7"/><polygon fill="#cdc855" points="439.2,583.6 442.5,583.6 442.5,590.1 439.2,590.1"/><polygon fill="#ff8080" points="400.0,543.1 403.9,543.1 403.9,554.9 400.0,554.9"/><polygon fill="#ffcccc" points="465.3,500.0 483.6,500.0 483.6,515.7 467.9,515.7"/><polygon fill="#ccccff" points="478.4,500.0 486.2,500.0 484.9,510.5 479.7,510.5"/><polygon fill="#8080ff" points="481.0,503.9 484.3,503.9 484.3,507.8 481.3,507.8"/><polygon fill="#ff8080" points="483.6,515.7 499.3,519.6 499.3,536.6 484.9,539.2 482.3,526.1"/><polygon fill="#ccccff" points="494.1,523.5 499.3,523.5 499.3,539.2 494.1,539.2"/><polygon fill="#ff0000" points="482.3,540.5 491.4,540.5 492.8,552.3 490.1,555.5 484.9,555.5"/><polygon fill="#b21a1a" points="484.9,545.7 491.4,545.7 491.4,553.6 486.2,553.6"/><polygon fill="#ccccff" points="499.3,500.0 510.0,500.0 510.0,515.7 500.6,515.7"/><polygon fill="#ff8080" points="500.6,518.3 510.0,518.3 510.0,539.2 501.9,541.8"/><polygon fill="#ffcccc" points="469.2,532.7 481.0,532.7 481.0,548.3 470.5,547.7"/><polygon fill="#ff0000" points="498.6,543.8 501.2,543.8 501.2,547.0 498.9,547.0"/></g>
<g clip-path="url(#cX4)"><rect x="540.0" y="252.0" width="86.0" height="130.0" fill="#fff2dc"/><polygon fill="#ffcccc" points="568.0,279.2 579.1,280.0 578.2,288.5 568.9,290.2"/><polygon fill="#ffcccc" points="572.3,308.1 580.8,301.3 591.0,298.7 599.5,295.3 604.6,289.4 608.0,282.6 614.8,275.8 621.6,272.4 626.0,269.0 626.0,286.0 619.9,289.4 613.1,294.5 609.7,303.0 604.6,309.8 601.2,308.1 594.4,304.7 585.9,306.4 582.5,313.2 585.9,318.3 580.8,314.9 574.0,313.2"/><polygon fill="#ffcccc" points="597.8,314.9 604.6,311.5 611.4,316.6 613.1,325.1 611.4,331.9 604.6,337.0 599.5,340.4 594.4,337.0 591.0,331.9 596.1,326.8 599.5,321.7"/><polygon fill="#ffcccc" points="540.0,342.1 550.2,338.7 560.4,340.4 570.6,343.8 579.1,337.0 587.6,335.3 596.1,340.4 597.8,347.2 602.9,350.6 608.0,347.2 614.8,340.4 621.6,337.0 626.0,333.6 626.0,382.0 540.0,382.0"/><polygon fill="#fff2dc" points="550.2,350.6 567.2,350.6 567.2,360.8 550.2,360.8"/><polygon fill="#fff2dc" points="568.9,359.1 579.1,359.1 579.1,369.3 568.9,369.3"/><polygon fill="#fff2dc" points="540.0,362.5 546.8,362.5 546.8,371.0 540.0,371.0"/><polygon fill="#fff2dc" points="591.0,347.2 599.5,354.0 596.1,360.8 589.3,357.4"/><polygon fill="#ffcccc" points="614.8,294.5 626.0,292.8 626.0,320.0 619.9,323.4 616.5,316.6 614.8,303.0"/><polygon fill="#ff8080" points="581.6,350.6 587.6,349.7 591.0,360.8 590.1,367.6 585.0,365.9 581.6,357.4"/><polygon fill="#ff8080" points="579.1,372.7 584.2,372.7 584.2,376.9 579.4,376.9"/><polygon fill="#ff8080" points="606.3,364.2 613.9,362.5 614.8,374.4 608.0,376.1"/><polygon fill="#ccccff" points="623.3,337.8 626.0,337.8 626.0,342.9 623.6,342.9"/><polygon fill="#ccccff" points="616.5,369.3 626.0,367.6 626.0,382.0 618.2,382.0"/><polygon fill="#fff" points="540.0,252.0 557.0,252.0 557.8,257.1 551.9,263.9 557.0,270.7 560.4,277.5 561.2,286.0 560.4,292.8 553.6,301.3 547.6,306.4 548.5,313.2 550.2,320.0 551.9,328.5 550.2,333.6 545.1,340.4 540.0,335.3"/><polygon fill="#ccccff" points="550.2,265.6 557.0,266.4 557.0,269.0 550.5,269.0"/><polygon fill="#ccccff" points="558.7,282.6 562.1,282.6 562.1,287.7 559.0,287.7"/><polygon fill="#ccccff" points="557.0,296.2 563.8,297.0 560.4,301.3 557.0,301.3"/><polygon fill="#ccccff" points="545.1,304.7 553.6,303.0 550.2,313.2 551.0,323.4 545.9,323.4"/><polygon fill="#fff" points="602.9,252.0 602.0,258.8 606.3,265.6 611.4,270.7 616.5,269.0 621.6,265.6 623.3,260.5 626.0,257.1 626.0,252.0"/><polygon fill="#ccccff" points="599.5,260.5 603.7,260.5 604.6,265.6 600.3,265.6"/></g>
<g clip-path="url(#cX5)"><rect x="190.0" y="150.0" width="110.0" height="90.0" fill="#fff"/><polygon fill="#ffcccc" points="190.0,199.6 196.2,194.6 202.4,189.7 208.6,186.0 214.8,182.2 221.0,178.5 227.2,174.8 233.4,171.7 240.2,168.4 245.8,164.9 252.0,163.6 259.4,161.8 266.9,158.7 271.8,157.4 276.8,159.9 284.3,159.3 289.2,158.7 294.2,159.3 300.0,159.9 300.0,240.0 190.0,240.0"/><polygon fill="#ff8080" points="263.2,181.0 270.6,177.3 276.8,178.5 284.3,179.8 289.2,183.5 292.9,188.4 288.0,190.9 279.3,190.9 274.3,190.9 269.4,187.2"/><polygon fill="#ff8080" points="223.5,209.5 230.9,204.6 237.1,202.1 243.3,205.8 257.0,208.3 259.4,210.8 252.0,215.7 247.0,221.9 244.6,229.4 244.6,235.6 238.4,236.8 232.2,233.1 227.2,226.9 222.2,221.9 217.3,217.0 214.8,212.0"/><polygon fill="#ff8080" points="190.0,199.6 196.2,198.4 202.4,202.1 208.6,205.8 214.8,212.0 212.3,214.5 206.1,212.0 199.9,208.3 193.7,205.8 190.0,205.8"/><polygon fill="#ff8080" points="265.6,204.6 271.8,203.3 279.3,207.0 284.3,208.3 289.2,212.0 295.4,214.5 300.0,213.2 300.0,226.9 295.4,229.4 289.2,226.9 285.5,221.9 280.5,220.7 276.8,217.0 270.6,212.0 266.9,208.3"/><polygon fill="#ff8080" points="192.5,224.4 199.9,221.9 204.9,226.9 202.4,231.8 197.4,234.3 192.5,230.6"/><polygon fill="#ff8080" points="204.9,186.0 209.8,184.7 214.8,183.5 213.6,187.2 208.6,188.4 206.1,189.7"/><polygon fill="#ff8080" points="291.7,194.6 296.7,193.4 300.0,194.6 300.0,198.4 295.4,198.4"/><polygon fill="#ff8080" points="237.1,176.0 242.1,174.8 248.3,177.3 253.2,180.4 248.3,181.6 242.1,181.0"/><polygon fill="#ff8080" points="276.8,235.6 284.3,234.3 289.2,236.8 288.0,240.0 276.8,240.0"/><polygon fill="#ff0000" points="229.1,173.6 233.4,171.1 239.6,170.1 243.3,170.1 247.0,173.6 249.8,176.7 245.8,178.8 242.1,176.7 237.1,177.0 233.4,175.4"/><polygon fill="#ff0000" points="295.4,228.7 300.0,227.5 300.0,233.1 296.7,232.1"/><polygon fill="#fff2dc" points="230.9,187.2 235.9,183.5 240.8,182.9 242.1,186.0 237.1,189.7 233.4,189.7"/><polygon fill="#fff2dc" points="213.6,192.2 217.3,191.5 219.8,194.0 216.0,196.1 213.6,194.6"/><polygon fill="#fff2dc" points="276.8,169.8 280.5,168.0 284.3,169.8 281.8,172.9 278.0,172.9"/><polygon fill="#fff2dc" points="263.2,162.4 268.1,158.7 271.8,159.9 270.6,164.9 266.9,167.4 263.2,166.1"/><polygon fill="#fff2dc" points="271.8,198.4 279.3,197.1 286.7,199.6 292.9,200.8 296.7,204.6 300.0,208.3 300.0,213.2 295.4,214.5 291.7,208.3 286.7,204.6 280.5,202.1 275.6,200.8"/><polygon fill="#fff2dc" points="190.0,208.3 195.0,208.3 196.2,214.5 192.5,217.0 190.0,214.5"/><polygon fill="#fff2dc" points="202.4,217.0 208.6,215.7 214.8,219.4 217.3,224.4 221.0,229.4 224.7,234.3 221.0,236.8 214.8,234.3 209.8,230.6 204.9,224.4"/><polygon fill="#ccccff" points="203.6,236.8 207.4,235.3 210.5,237.8 207.4,240.0 204.3,240.0"/></g>
<g clip-path="url(#cX6)"><rect x="278.0" y="252.0" width="90.0" height="129.9" fill="#ffcccc"/><polygon fill="#ff8080" points="278.0,257.1 283.1,255.4 286.5,258.8 284.8,263.0 279.7,262.2 278.0,260.5"/><polygon fill="#ff8080" points="293.3,252.0 308.6,252.0 306.9,257.1 303.5,260.5 296.7,258.8"/><polygon fill="#ff8080" points="301.8,266.4 306.0,264.7 310.3,272.4 317.1,286.0 315.4,291.1 308.6,290.2 305.2,280.9 302.6,272.4"/><polygon fill="#ff8080" points="295.0,263.0 300.1,263.9 300.1,267.3 295.8,267.3"/><polygon fill="#ff8080" points="286.5,283.4 290.7,282.6 293.3,291.1 289.0,291.9"/><polygon fill="#ff8080" points="312.0,255.4 317.1,255.4 317.1,259.6 312.8,259.6"/><polygon fill="#ff8080" points="352.7,258.8 362.9,258.8 364.6,265.6 357.8,267.3"/><polygon fill="#ff8080" points="351.0,277.5 362.9,274.1 368.0,277.5 368.0,284.3 359.5,289.4 356.1,287.7 352.7,282.6"/><polygon fill="#ff8080" points="278.0,304.6 283.1,306.3 288.2,316.5 293.3,325.0 298.4,331.8 301.8,336.9 298.4,340.3 293.3,338.6 288.2,333.5 284.8,326.7 278.0,319.9"/><polygon fill="#ff8080" points="300.1,319.1 305.2,319.1 305.2,323.3 300.9,323.3"/><polygon fill="#ff8080" points="312.0,317.4 318.8,316.5 323.8,321.6 327.2,326.7 334.0,330.1 337.4,333.5 335.7,340.3 328.9,342.0 323.8,345.4 318.8,340.3 315.4,333.5"/><polygon fill="#ff8080" points="305.2,334.4 311.1,334.4 311.1,338.6 306.0,338.6"/><polygon fill="#ff8080" points="342.5,348.8 347.6,347.9 349.3,353.9 343.4,353.9"/><polygon fill="#ff8080" points="320.5,353.9 324.7,353.9 324.7,358.1 320.8,358.1"/><polygon fill="#ff8080" points="345.9,329.3 351.0,329.3 351.0,332.7 346.3,332.7"/><polygon fill="#ff8080" points="328.9,360.7 340.8,360.7 342.5,370.9 339.1,381.9 330.6,381.9 327.2,370.9"/><polygon fill="#ff8080" points="344.2,364.1 352.7,362.4 357.8,370.9 356.1,381.9 349.3,381.9"/><polygon fill="#ff8080" points="359.5,362.4 368.0,360.7 368.0,374.3 361.2,374.3"/><polygon fill="#ff0000" points="298.4,252.0 305.2,252.0 304.3,255.4 299.2,255.4"/><polygon fill="#ff0000" points="288.2,331.0 295.0,328.4 299.2,335.2 293.3,338.6 289.9,336.1"/><polygon fill="#ff0000" points="321.3,336.1 324.7,336.1 324.7,340.3 321.8,340.3"/><polygon fill="#ff0000" points="334.0,362.0 337.8,362.0 337.8,365.4 334.4,365.4"/><polygon fill="#ff0000" points="345.9,364.9 349.3,364.9 349.3,369.2 346.3,369.2"/><polygon fill="#fff2dc" points="322.2,257.1 328.9,255.4 334.0,262.2 337.4,269.0 344.2,274.1 340.8,282.6 334.0,284.3 328.9,275.8 325.5,267.3"/><polygon fill="#fff2dc" points="291.6,275.8 295.8,274.9 296.7,279.2 292.4,280.0"/><polygon fill="#fff2dc" points="288.2,296.2 293.3,296.2 293.3,300.4 288.5,300.4"/><polygon fill="#fff2dc" points="320.5,295.3 325.5,294.5 332.3,302.9 334.0,308.0 330.6,308.9 325.5,302.9"/><polygon fill="#fff2dc" points="327.2,287.7 332.3,286.8 332.3,291.1 328.1,291.1"/><polygon fill="#fff2dc" points="313.7,308.0 320.5,308.0 323.8,313.1 318.8,314.0"/><polygon fill="#fff2dc" points="349.3,297.0 353.6,297.0 353.6,301.2 349.7,301.2"/><polygon fill="#fff2dc" points="340.8,313.1 349.3,313.1 354.4,321.6 359.5,331.8 362.9,342.0 361.2,353.9 356.1,355.6 352.7,347.1 347.6,336.9 344.2,326.7"/><polygon fill="#fff2dc" points="330.6,340.3 337.4,340.3 339.1,347.1 334.0,348.8"/><polygon fill="#fff2dc" points="362.9,314.8 368.0,314.8 368.0,319.9 363.8,319.9"/><polygon fill="#fff2dc" points="352.7,350.5 368.0,350.5 368.0,359.0 354.4,359.0"/><polygon fill="#fff2dc" points="318.8,364.1 327.2,362.4 328.9,374.3 322.2,381.9 317.1,381.9"/><polygon fill="#fff2dc" points="303.5,340.3 310.3,340.3 312.0,347.1 305.2,348.8"/><polygon fill="#fff" points="278.0,326.7 281.4,328.4 284.8,333.5 284.8,340.3 281.4,343.7 281.4,347.1 288.2,347.1 295.0,348.8 300.1,350.5 305.2,353.9 309.4,353.9 310.3,360.7 313.7,370.9 312.0,374.3 308.6,370.9 305.2,369.2 303.5,370.9 305.2,381.9 278.0,381.9"/><polygon fill="#fff2dc" points="278.0,336.9 281.4,336.9 281.4,347.1 288.2,348.8 295.0,350.5 301.8,353.9 305.2,360.7 303.5,369.2 301.8,381.9 298.4,381.9 296.7,367.5 291.6,360.7 284.8,353.9 278.0,350.5"/><polygon fill="#ccccff" points="286.5,351.8 291.6,352.5 291.6,355.9 286.8,355.6"/><polygon fill="#ccccff" points="291.6,358.6 298.4,359.8 298.4,364.1 292.4,363.2"/></g>
<g clip-path="url(#cX7)"><rect x="368.0" y="252.0" width="90.0" height="129.9" fill="#ffcccc"/><polygon fill="#fff2dc" points="398.6,252.0 458.0,252.0 458.0,301.2 449.5,302.9 439.3,302.9 432.5,308.0 425.7,306.3 418.9,309.7 412.2,313.1 408.8,308.0 410.5,299.5 408.8,289.4 403.7,282.6 403.7,272.4 407.1,265.6 402.0,257.1"/><polygon fill="#ffcccc" points="427.4,301.2 439.3,300.4 449.5,301.2 458.0,299.5 458.0,309.7 444.4,310.6 432.5,310.6"/><polygon fill="#fff2dc" points="371.4,291.1 381.6,289.4 390.1,292.8 395.2,299.5 393.5,308.0 386.7,316.5 378.2,314.8 373.1,308.0"/><polygon fill="#fff2dc" points="395.2,316.5 403.7,315.7 407.1,321.6 402.0,326.7 396.9,326.7"/><polygon fill="#fff2dc" points="425.7,336.9 432.5,336.9 433.4,350.5 426.6,350.5"/><polygon fill="#fff2dc" points="449.5,347.1 458.0,346.2 458.0,358.1 451.2,358.1"/><polygon fill="#fff2dc" points="388.4,252.0 398.6,252.0 402.0,257.1 393.5,258.8 388.4,255.4"/><polygon fill="#fff2dc" points="386.7,277.5 393.5,277.5 393.5,281.7 387.0,281.7"/><polygon fill="#ff8080" points="368.0,269.0 373.1,269.0 375.6,284.3 371.4,291.1 368.0,289.4"/><polygon fill="#ff8080" points="395.2,268.1 400.3,268.1 400.3,271.5 395.5,271.5"/><polygon fill="#ff8080" points="393.5,302.9 396.9,302.9 397.7,308.0 393.8,308.0"/><polygon fill="#ff8080" points="435.9,319.1 442.7,319.1 444.4,331.8 439.3,331.8"/><polygon fill="#ff8080" points="371.4,347.1 379.9,347.1 385.0,350.5 391.8,353.9 402.0,355.6 413.8,353.9 415.5,360.7 371.4,360.7"/><polygon fill="#ff8080" points="374.8,360.7 413.8,360.7 413.0,370.9 407.1,381.9 390.1,381.9 393.5,370.9 378.2,369.2"/><polygon fill="#ff8080" points="417.2,360.7 424.0,362.4 420.6,370.9 417.2,370.9"/><polygon fill="#ff0000" points="373.1,379.0 381.6,379.0 381.6,381.9 373.1,381.9"/></g>
<g clip-path="url(#cX8)"><rect x="120.0" y="200.0" width="100.0" height="70.0" fill="#fff"/><polygon fill="#ffcccc" points="187.6,200.0 178.6,207.9 171.9,214.7 167.4,221.4 162.8,227.1 157.2,232.7 151.6,237.2 147.1,244.0 143.7,249.6 140.3,254.1 135.8,260.9 132.4,266.5 131.3,270.0 142.0,270.0 143.1,266.5 144.2,264.3 142.5,262.0 144.8,258.6 148.2,255.2 150.4,253.0 151.6,249.6 151.0,247.4 153.8,245.1 158.3,242.8 164.0,241.1 173.0,244.0 175.2,244.5 179.8,245.7 184.3,247.4 187.6,248.5 191.0,251.3 194.4,253.0 198.9,253.0 204.6,253.0 210.2,254.1 214.7,255.2 220.0,255.2 220.0,200.0"/><polygon fill="#ffcccc" points="153.8,258.6 158.3,261.4 162.8,258.6 169.6,254.1 173.0,249.6 174.1,254.1 167.4,258.6 160.6,263.1 156.1,263.1"/><polygon fill="#ffcccc" points="187.6,248.5 194.4,253.0 204.6,253.0 220.0,255.2 220.0,258.6 212.4,257.5 198.9,255.2 191.0,254.1"/><polygon fill="#ff8080" points="187.6,200.0 198.9,200.0 198.9,206.8 192.2,207.9 183.1,204.5"/><polygon fill="#ff8080" points="192.2,220.3 198.9,219.2 205.7,222.5 205.7,229.3 198.9,230.4 193.3,227.1"/><polygon fill="#ff8080" points="180.9,221.4 187.6,220.3 192.2,225.9 189.9,231.6 183.1,230.4"/><polygon fill="#ff8080" points="183.1,237.2 192.2,236.1 198.9,239.5 198.9,247.4 192.2,248.5 185.4,246.2"/><polygon fill="#ff8080" points="205.7,200.0 220.0,200.0 220.0,211.3 212.4,212.4 207.9,206.8"/><polygon fill="#ff8080" points="214.7,213.5 220.0,213.5 220.0,228.2 215.8,227.1"/><polygon fill="#ff8080" points="133.5,254.1 140.3,253.0 142.5,258.6 138.0,261.4 134.7,259.8"/><polygon fill="#ff8080" points="131.3,265.4 136.9,264.3 136.9,270.0 131.3,270.0"/><polygon fill="#ff8080" points="198.9,206.8 205.7,206.8 209.1,212.4 203.4,214.7 198.9,212.4"/><polygon fill="#ff8080" points="187.6,231.6 194.4,230.4 198.9,236.1 193.3,237.2"/><polygon fill="#ff8080" points="210.2,237.2 220.0,236.1 220.0,247.4 213.6,247.4"/><polygon fill="#ff8080" points="196.7,247.4 205.7,247.4 210.2,251.9 201.2,253.0"/><polygon fill="#fff2dc" points="183.1,206.8 189.9,205.6 196.7,210.1 192.2,214.7 185.4,212.4"/><polygon fill="#fff2dc" points="183.1,228.2 188.8,228.2 189.9,233.8 184.3,233.8"/><polygon fill="#fff2dc" points="201.2,229.3 207.9,228.2 210.2,236.1 203.4,237.2"/><polygon fill="#fff2dc" points="205.7,215.8 212.4,215.8 212.4,222.5 206.8,222.5"/><polygon fill="#fff2dc" points="187.6,213.5 194.4,214.7 196.7,219.2 189.9,219.7"/><polygon fill="#ccccff" points="204.0,235.5 207.4,234.4 210.2,237.8 206.8,239.5"/><polygon fill="#ff0000" points="175.2,214.7 183.1,213.5 186.5,219.2 183.1,222.0 176.4,219.7"/><polygon fill="#ff0000" points="165.1,224.8 173.0,223.7 180.9,225.9 183.1,233.8 176.4,237.2 168.5,233.8 164.0,230.4"/><polygon fill="#ff0000" points="152.7,236.1 160.6,233.8 167.4,236.1 173.0,239.5 174.1,247.4 173.0,253.0 167.4,255.2 160.6,255.2 156.1,253.0 153.8,247.4"/><polygon fill="#ff0000" points="173.0,238.3 180.9,237.2 187.6,240.6 188.8,247.4 183.1,249.6 175.2,247.4"/><polygon fill="#ff0000" points="142.5,248.5 148.2,247.4 151.6,250.7 148.2,254.1 143.7,253.0"/><polygon fill="#ff0000" points="134.7,259.8 140.3,258.6 141.4,264.3 136.9,266.5 133.5,264.3"/><polygon fill="#ff0000" points="148.2,241.7 152.7,240.6 153.8,245.1 150.4,247.4"/><polygon fill="#b21a1a" points="167.4,230.4 174.1,229.3 179.8,233.8 176.4,237.2 169.6,236.1"/><polygon fill="#b21a1a" points="164.0,242.8 168.5,242.8 168.5,247.4 164.5,247.4"/><polygon fill="#b21a1a" points="152.7,233.8 158.3,233.8 158.3,238.3 153.3,238.3"/><polygon fill="#b21a1a" points="177.5,249.6 183.1,249.6 183.1,253.0 178.1,253.0"/><polygon fill="#b21a1a" points="157.2,237.2 160.6,237.2 160.6,240.6 157.2,240.6"/><polygon fill="#ff8000" points="169.6,227.1 175.2,226.5 176.9,231.6 171.9,232.7"/><polygon fill="#ff8000" points="145.9,238.3 151.6,237.2 153.8,242.8 151.6,249.6 147.1,250.7 144.8,247.4"/><polygon fill="#ff8000" points="174.1,244.0 180.9,243.4 185.4,247.4 183.1,250.2 176.4,249.6"/><polygon fill="#ffcccc" points="168.5,237.2 172.4,237.2 173.0,240.6 168.7,240.6"/><polygon fill="#ffcccc" points="157.2,251.9 161.7,251.3 162.8,255.8 158.3,256.4"/><polygon fill="#ffdddd" points="151.6,258.6 157.2,258.6 158.9,264.8 153.8,266.5 151.0,263.1"/></g>
<g clip-path="url(#cX9)"><rect x="360.0" y="525.0" width="100.0" height="75.0" fill="#fff"/><polygon fill="#ff8080" points="360.0,525.0 460.0,525.0 460.0,558.8 360.0,558.8"/><polygon fill="#ffcccc" points="399.5,525.0 460.0,525.0 460.0,558.8 429.9,558.8 410.7,552.1 402.8,541.9"/><polygon fill="#fff2dc" points="416.4,525.0 438.9,525.0 438.9,536.3 433.3,547.5 423.1,549.8 416.4,541.9"/><polygon fill="#ffcccc" points="429.9,536.3 438.9,535.1 441.2,547.5 432.2,547.5"/><polygon fill="#ccccff" points="440.0,525.0 449.1,525.0 447.9,537.4 441.2,536.3"/><polygon fill="#ff8080" points="432.2,548.7 452.4,541.9 460.0,545.3 460.0,562.2 450.2,558.8 438.9,558.8"/><polygon fill="#ff0000" points="452.4,545.3 460.0,545.3 460.0,561.1 454.7,562.2"/><polygon fill="#ff0000" points="411.9,537.4 415.2,537.4 415.2,540.8 412.1,540.8"/><polygon fill="#ff8080" points="402.8,529.5 411.9,528.4 413.0,535.1 405.1,536.3"/><polygon fill="#ff0000" points="376.9,528.4 384.8,528.4 385.9,532.9 378.0,533.5"/><polygon fill="#ffcccc" points="360.0,525.0 375.8,525.0 375.8,531.8 366.8,534.0 360.0,531.8"/><polygon fill="#ffcccc" points="374.7,531.8 388.2,532.9 388.2,570.1 382.5,562.2 379.2,553.2 374.7,543.0"/><polygon fill="#fff2dc" points="376.9,547.5 385.9,547.5 386.5,558.8 378.0,558.8"/><polygon fill="#ff8080" points="376.9,534.0 388.2,534.0 388.2,543.0 378.0,543.0"/><polygon fill="#ffcccc" points="402.8,541.9 410.7,552.1 407.4,556.6 399.5,554.3 397.2,547.5"/><polygon fill="#ff0000" points="385.9,540.8 397.2,539.7 407.4,544.2 410.7,550.9 416.4,555.4 423.1,554.3 429.9,552.1 432.2,556.6 438.9,558.8 447.9,570.1 450.2,585.9 447.9,589.3 438.9,590.4 427.6,591.5 416.4,593.8 407.4,595.5 397.2,597.2 393.8,592.6 390.4,581.4 387.1,570.1 387.1,558.8"/><polygon fill="#ff8080" points="393.8,541.9 400.6,541.9 402.8,548.7 397.2,552.1 393.8,547.5"/><polygon fill="#ff8000" points="393.8,556.6 398.3,556.6 402.8,565.6 405.1,574.6 405.1,588.1 402.8,592.6 400.6,592.6 398.3,588.1 394.9,579.1 392.7,570.1 390.4,562.2"/><polygon fill="#ffff00" points="391.6,561.1 393.8,559.9 397.2,565.6 400.6,574.6 401.7,581.4 401.7,585.9 399.5,585.9 397.2,579.1 393.8,570.1 391.6,565.6"/><polygon fill="#cdc855" points="390.4,547.5 392.7,547.5 392.7,550.4 390.7,550.4"/><polygon fill="#cdc855" points="394.9,573.5 397.2,573.5 397.2,576.9 395.2,576.9"/><polygon fill="#cdc855" points="426.5,579.1 428.2,579.1 428.2,581.4 426.7,581.4"/><polygon fill="#cdc855" points="441.2,583.6 443.4,583.6 443.4,586.4 441.4,586.4"/><polygon fill="#cdc855" points="399.5,588.1 401.7,588.1 401.7,591.5 399.7,591.5"/><polygon fill="#b21a1a" points="387.1,557.7 391.6,557.7 391.6,562.2 387.6,562.2"/><polygon fill="#b21a1a" points="397.2,562.2 402.8,561.1 404.0,566.7 398.3,567.8"/><polygon fill="#b21a1a" points="411.9,575.7 423.1,575.7 423.1,583.6 413.0,583.6"/><polygon fill="#b21a1a" points="432.2,562.2 438.9,564.5 443.4,572.4 443.4,581.4 438.9,581.4 434.4,572.4"/><polygon fill="#b21a1a" points="426.5,573.5 431.0,573.5 431.0,578.0 427.1,578.0"/><polygon fill="#b21a1a" points="438.9,583.6 445.7,583.6 445.7,588.1 439.5,588.1"/><polygon fill="#b21a1a" points="402.8,590.4 407.4,590.4 407.4,594.9 403.4,594.9"/><polygon fill="#ff8000" points="414.1,579.1 417.5,579.1 418.6,591.5 414.7,591.5"/><polygon fill="#ff8000" points="423.1,579.1 426.5,579.1 426.5,583.6 423.1,583.6"/><polygon fill="#ff8000" points="442.3,578.0 445.7,578.0 445.7,581.4 442.3,581.4"/><polygon fill="#ff8000" points="443.4,584.8 449.1,584.8 449.1,590.4 444.0,590.4"/><polygon fill="#ff8000" points="428.8,572.4 431.0,572.4 431.0,575.2 429.0,575.2"/><polygon fill="#ffcccc" points="407.4,556.6 418.6,558.8 423.1,561.1 427.6,562.2 429.9,567.8 427.6,572.4 420.9,573.5 414.1,572.4 409.6,567.8 405.1,562.2"/><polygon fill="#ffcccc" points="407.4,574.6 411.9,575.7 411.9,581.4 407.4,581.4"/><polygon fill="#ffcccc" points="424.3,583.6 431.0,583.6 432.2,588.1 427.6,590.4"/><polygon fill="#ffcccc" points="432.2,572.4 436.7,573.5 436.7,579.1 432.2,578.0"/><polygon fill="#ffcccc" points="420.9,547.5 427.6,547.5 427.6,553.2 421.4,553.2"/><polygon fill="#ccccff" points="361.1,529.5 366.8,529.5 374.7,534.0 374.7,543.0 379.2,553.2 382.5,562.2 384.8,570.1 388.2,575.7 391.6,581.4 393.8,588.1 397.2,593.8 393.8,596.0 391.6,594.9 389.3,588.1 384.8,578.0 378.0,567.8 372.4,553.2 366.8,539.7"/><polygon fill="#8080ff" points="384.8,572.4 388.2,573.5 391.6,581.4 393.8,588.1 396.1,592.6 392.7,593.8 389.3,588.1 385.9,578.0"/><polygon fill="#ccccff" points="360.0,531.8 362.3,531.8 366.8,539.7 363.4,540.8 360.0,536.3"/><polygon fill="#0000ff" points="389.3,591.5 397.2,591.5 399.5,597.2 392.7,600.0 390.4,597.2"/><polygon fill="#fff" points="356.5,529.7 358.4,530.6 356.5,541.4 362.4,551.2 365.3,557.1 368.2,563.0 372.2,570.9 373.1,578.7 374.1,586.5 376.1,596.4 380.0,604.2 382.9,610.1 384.9,611.1 387.9,600.3 384.9,586.5 380.0,574.8 376.1,565.0 372.2,557.1 370.2,549.3 366.3,539.5 362.4,531.6"/><polygon fill="#fff" points="360.0,600.0 388.2,600.0 393.8,597.2 397.2,597.7 407.4,595.8 416.4,594.2 427.6,592.0 438.9,590.8 447.9,589.8 450.2,588.1 451.3,592.6 460.0,592.6 460.0,600.0"/><polygon fill="#fff" points="451.3,561.1 460.0,558.8 460.0,600.0 450.2,600.0 450.2,588.1"/><polygon fill="#fff2dc" points="360.0,562.2 363.4,562.2 366.8,572.4 369.0,583.6 367.9,592.6 364.5,592.6 362.3,581.4 360.0,575.7"/><polygon fill="#fff" points="342.7,517.9 346.7,527.7 350.6,537.5 351.6,547.3 355.5,553.2 358.4,561.0 356.5,568.9 360.4,572.8 364.3,576.7 367.3,582.6 369.2,588.5 368.2,596.4 372.2,600.3 378.0,608.1 382.0,616.0 382.9,610.1 380.0,604.2 376.1,596.4 374.1,586.5 373.1,578.7 372.2,570.9 368.2,563.0 365.3,557.1 362.4,551.2 356.5,541.4 358.4,530.6 355.5,529.7"/><polygon fill="#fff" points="278.0,512.0 340.8,512.0 342.7,517.9 346.7,527.7 350.6,537.5 351.6,547.3 355.5,553.2 358.4,561.0 356.5,568.9 360.4,572.8 364.3,576.7 367.3,582.6 369.2,588.5 368.2,596.4 372.2,600.3 378.0,608.1 382.0,616.0 382.0,642.1 278.0,642.1"/><polygon fill="#fff2dc" points="336.9,515.9 341.2,515.9 345.7,529.7 349.6,541.4 350.2,549.3 353.5,555.2 356.1,563.0 354.9,570.9 360.4,576.7 364.3,582.6 366.7,590.5 367.3,598.3 364.3,598.3 361.4,586.5 356.5,578.7 352.2,570.9 350.6,559.1 346.7,547.3 342.7,533.6"/><polygon fill="#ff8080" points="374.3,530.4 387.5,530.4 387.5,540.7 375.8,540.7"/><polygon fill="#ff0000" points="380.3,531.8 387.1,531.8 387.1,537.4 380.9,537.4"/><polygon fill="#ccccff" points="361.1,529.5 368.9,532.1 374.0,544.1 380.7,550.7 384.1,559.3 389.2,567.6 394.3,576.2 397.5,584.6 399.2,591.3 397.2,594.9 391.6,594.9 389.3,588.1 384.8,578.0 378.0,567.8 372.4,553.2 366.8,539.7"/><polygon fill="#8080ff" points="382.5,567.8 389.2,570.1 394.3,578.0 397.2,585.9 398.3,591.5 393.8,592.6 389.3,588.1 384.8,578.0"/><polygon fill="#ffcccc" points="374.7,547.5 379.2,547.5 380.3,552.1 375.8,553.2"/><polygon fill="#fff2dc" points="384.8,561.1 388.2,561.1 388.2,564.5 385.0,564.5"/><polygon fill="#0000ff" points="389.3,591.5 397.2,591.5 399.5,597.2 392.7,600.0 390.4,597.2"/></g></g>
<g clip-path="url(#cmap)" fill="none" stroke="#000" stroke-width="1" shape-rendering="crispEdges" stroke-linejoin="round"><g clip-path="url(#lA1)"><polyline points="105.0,152.4 115.8,147.5 122.6,147.1 129.5,143.6 140.3,147.1 151.1,147.1 155.4,151.4 170.7,151.8 184.4,153.4 190.3,156.3 204.0,155.7 211.9,158.9 221.7,160.3 239.4,168.1 241.3,164.2 245.2,161.2 253.1,162.2 260.9,158.3 272.7,153.4 278.0,157.3"/><polyline points="151.1,252.1 152.1,245.6 162.9,241.7 157.0,247.5 157.9,252.1"/><polyline points="172.7,252.1 173.6,245.6 182.5,245.6 190.3,251.5 192.3,252.1"/></g>
<g clip-path="url(#lA2)"><polyline points="278.0,156.3 282.9,151.0 287.8,154.4 292.7,158.3 297.6,160.3 302.5,156.9 305.5,161.2 309.4,158.3 319.2,157.7 329.0,161.2 340.8,163.2 350.6,166.1 356.5,169.1 358.4,174.0 352.5,175.9 362.4,177.9 372.2,173.0 378.0,175.0 383.9,173.0 391.8,175.9 391.8,178.9 387.9,177.9 386.9,174.0 393.7,172.0 401.6,169.1 411.4,171.0 419.2,175.0 431.0,178.9 442.8,178.9 445.7,174.0 444.7,169.1 440.8,165.2 446.7,158.3 452.0,159.3"/><polyline points="332.9,131.8 336.9,128.9 346.7,125.9 360.4,124.0 364.3,127.9 376.1,126.9 387.9,128.9 393.7,127.9 397.7,124.0 405.5,122.0 419.2,122.0 413.4,124.0 406.5,129.8 407.5,135.7 411.4,141.6 413.4,145.5 421.2,151.4 433.0,154.4 429.0,160.3 421.2,164.2 411.4,163.2 403.5,160.3 399.6,163.2 387.9,167.1 376.1,169.1 360.4,167.1 348.6,161.2 344.7,156.3 352.5,154.4 364.3,151.4 356.5,149.5 344.7,148.5 340.8,143.6 334.9,140.6 332.9,135.7 332.9,131.8"/><polyline points="419.2,122.0 419.2,127.9 427.1,124.0 434.9,122.0"/><polyline points="452.0,139.7 444.7,141.6 438.9,139.7 433.0,135.7 427.1,133.8 419.2,129.8 415.3,125.9 419.2,122.0"/><polyline points="297.6,135.7 305.5,129.8 307.4,124.0 309.4,122.0"/><polyline points="299.6,194.6 309.4,191.6 319.2,188.7 329.0,184.8 331.9,187.7 328.0,190.7 336.9,189.7 339.8,190.7 336.9,196.5 331.0,199.5 325.1,201.4 324.1,206.4 320.2,204.4 317.2,199.5 311.3,204.4 309.4,203.4 313.3,199.5 317.2,194.6 307.4,193.6 299.6,194.6"/><polyline points="343.7,242.6 352.5,237.7 352.5,230.9 360.4,233.8 370.2,230.9 378.0,226.9 385.9,226.9 380.0,228.9 374.1,231.9 370.2,235.8 364.3,239.7 354.5,245.6 346.7,244.6 343.7,242.6"/></g>
<g clip-path="url(#lA3)"><polyline points="460.8,122.0 459.8,131.8 455.9,141.6 454.0,151.4 459.8,155.3 465.7,159.3 467.7,163.2 464.8,169.1 462.8,173.0 457.9,178.9 454.0,178.9 452.0,175.0"/><polyline points="452.0,125.9 454.9,127.9 455.9,133.8 452.0,137.7"/><polyline points="468.7,130.8 471.6,139.7 481.4,151.4 477.5,158.3 487.3,163.2 491.2,167.1 499.1,165.2 499.1,171.0 501.0,178.9 505.0,180.9 508.9,178.9 514.8,173.0 514.8,160.3 518.7,157.3 526.5,158.3 532.4,160.3 536.4,163.2 538.3,169.1 536.4,178.9 534.4,182.8 530.5,186.7 522.6,190.7 516.7,189.7 510.9,190.7 508.9,194.6 510.9,198.5 508.9,204.4 506.9,218.1 514.8,218.1 516.7,222.0 520.7,218.1 528.5,214.2 534.4,216.2 540.3,218.1 542.2,216.2 536.4,212.2 532.4,206.4 526.5,202.4 520.7,198.5 516.7,196.5"/><polyline points="464.8,252.1 469.7,239.7 477.5,227.9 485.3,222.0 487.3,218.1 497.1,212.2 503.0,208.3 505.0,200.5 508.9,192.6"/><polyline points="489.3,132.8 491.2,127.9 495.2,124.0 499.1,122.0"/><polyline points="516.7,139.7 512.8,135.7 512.8,127.9 516.7,124.0 510.9,125.9 508.9,129.8"/><polyline points="536.4,124.0 538.3,127.9 546.2,129.8 557.9,127.9 563.8,125.9 561.9,122.0"/><polyline points="538.3,133.8 554.0,131.8 575.6,129.8 577.5,137.7 589.3,139.7 601.1,145.5 610.9,153.4 612.9,163.2 616.8,164.2 610.9,169.1 620.7,174.0 626.0,175.0"/><polyline points="536.4,155.3 546.2,158.3 554.0,154.4 561.9,161.2 567.7,167.1 571.7,166.1 577.5,171.0 583.4,175.0 585.4,180.9 581.5,186.7 577.5,190.7 573.6,194.6 577.5,198.5 571.7,200.5 563.8,199.5 557.9,200.5 554.0,204.4 554.0,210.3 561.9,212.2 573.6,210.3 581.5,212.2 589.3,216.2 597.2,220.1 605.0,224.0 612.9,227.9 618.7,231.9 616.8,237.7"/><polyline points="554.0,231.9 561.9,229.9 573.6,230.9 581.5,233.8 589.3,239.7 593.2,245.6 597.2,252.1"/><polyline points="554.0,235.8 556.0,243.6 557.9,252.1"/><polyline points="612.9,192.6 616.8,190.7 622.7,196.5 626.0,198.5"/><polyline points="605.0,216.2 612.9,220.1 618.7,224.0 626.0,227.9"/><polyline points="559.9,176.9 565.8,174.0 571.7,175.9 571.7,180.9 565.8,182.8 560.9,181.8 559.9,176.9"/><polyline points="524.6,231.9 528.5,228.9 532.4,227.9 529.5,230.9 524.6,231.9"/><polyline points="543.2,230.9 548.1,230.9 547.1,236.8 544.2,237.7 543.2,230.9"/></g>
<g clip-path="url(#lA4)"><polyline points="677.0,122.0 675.0,125.9 678.0,131.8 677.0,141.6 684.9,142.6 688.8,138.7 692.7,143.6 699.6,147.5 700.5,151.4 692.7,148.5 684.9,147.5 682.9,151.4 681.9,159.3 686.8,162.2 694.7,161.2 700.5,157.3 702.5,161.2 701.5,169.1 693.7,170.1 688.8,175.0 686.8,182.8 688.8,196.5 694.7,200.5 696.6,210.3 700.5,214.2 702.5,222.0 708.4,231.9 712.3,239.7 718.2,245.6 726.0,246.6 733.9,248.5 741.7,249.5 745.7,245.6 749.6,239.7 748.6,228.9 753.5,224.0 757.4,220.1 759.4,212.2 757.4,204.4 763.3,199.5 773.1,197.5 781.0,195.6 790.8,190.7 800.0,182.8"/><polyline points="626.0,175.9 635.8,180.9 645.6,188.7 641.7,194.6 633.8,198.5 631.9,204.4 626.0,202.4"/><polyline points="626.0,216.2 628.9,218.1 628.9,224.0 626.0,226.0"/></g>
<g clip-path="url(#lB1)"><polyline points="193.3,252.0 202.1,254.0 213.9,254.9 221.7,258.9 229.5,262.8 233.5,268.7 239.4,273.6 243.3,279.5 245.2,286.3 246.8,290.3"/><polyline points="221.7,252.0 229.5,257.9 239.4,256.9 243.3,255.5 245.6,259.8 249.6,263.8 253.1,273.6 259.0,281.4 262.9,287.3 268.8,291.2 272.7,294.2 271.7,303.0 270.7,310.9 272.7,316.7 278.0,326.2"/><polyline points="241.3,270.6 244.8,267.7 247.2,271.6 245.6,274.0 247.6,279.5 249.6,277.1 251.5,280.4 254.1,283.0 255.4,281.4 253.1,277.5 249.6,273.6 247.2,267.7"/><polyline points="248.2,279.5 250.1,286.3 253.1,289.3 257.0,293.2 260.0,301.0 260.9,305.0 259.0,297.1 257.0,291.2"/><polyline points="257.0,291.2 260.9,292.2 263.3,296.1 261.9,302.0"/><polyline points="255.4,310.9 260.9,311.8 262.9,317.1 265.2,325.0 267.8,331.4 263.9,329.5 260.9,324.6 257.4,316.7 256.0,312.8"/><polyline points="111.8,285.3 106.9,289.3 104.0,291.2"/><polyline points="104.0,297.5 115.8,293.2 123.6,287.3"/></g>
<g clip-path="url(#lB2)"><polyline points="278.0,326.5 280.0,328.5 283.9,338.3 282.3,343.8"/><polyline points="281.9,344.2 289.8,345.2 297.6,350.1 303.5,354.0 309.4,361.9 312.3,369.7 313.3,373.6 309.4,369.7 305.5,365.8 301.5,365.8 297.6,359.9 289.8,354.0 283.9,350.1 281.9,345.2"/><polyline points="303.5,359.9 307.4,354.0 310.4,359.9 311.3,369.7 309.4,374.6 305.5,369.7 303.5,382.1"/><polyline points="374.1,266.7 383.9,256.9 387.9,255.9 395.7,259.8 387.9,261.8 380.0,265.7 376.1,267.7 374.1,266.7"/><polyline points="419.2,287.3 423.2,279.5 424.1,271.6 427.1,274.6 428.1,277.5 423.2,281.4 422.2,287.3 419.2,287.3"/><polyline points="429.0,321.6 434.9,322.6 436.9,330.5 440.8,334.4 440.8,340.3 444.7,348.1 446.7,348.1 444.7,342.2 442.8,330.5 438.9,326.5 434.9,320.7 430.0,320.7"/><polyline points="440.8,316.7 446.7,314.8 448.7,322.6 452.0,330.5"/></g>
<g clip-path="url(#lB3)"><polyline points="464.8,252.0 465.7,264.8 473.6,267.7 477.5,281.4 483.4,280.4 499.1,287.3 505.0,293.2 516.7,299.1 530.5,300.1 532.4,303.0 531.4,320.7 534.4,326.5 538.3,330.5 545.2,341.3 548.1,334.4 552.0,331.4 550.1,322.6 548.1,308.9 554.0,303.0 560.9,295.2 561.9,285.3 559.9,271.6 552.0,266.7 556.9,261.8 558.9,252.0"/><polyline points="544.2,289.3 548.1,287.3 550.1,291.2 547.1,294.2 544.2,293.2"/><polyline points="533.4,320.7 538.3,322.6 540.3,325.6 536.4,325.0 533.4,320.7"/><polyline points="603.0,252.0 601.1,257.9 605.0,263.8 611.9,270.6 618.7,265.7 624.6,259.8 626.0,257.9"/><polyline points="452.0,332.4 454.9,334.4 455.9,340.3 454.0,346.2 452.0,348.1"/><polyline points="593.2,382.1 601.1,369.7 608.9,361.9 614.8,356.0 620.7,350.1 626.0,348.1"/><polyline points="599.1,382.1 605.0,373.6 612.9,367.7 620.7,363.8 626.0,363.8"/></g>
<g clip-path="url(#lB4)"><polyline points="626.0,252.0 629.9,255.9 633.8,263.8 639.7,273.6 644.6,279.5 645.6,283.4 643.7,287.3 644.6,293.2 651.5,299.1 659.3,303.0 665.2,306.9 663.3,310.9 667.2,312.8 673.1,318.7 676.0,324.6 675.0,330.5 671.1,334.4 665.2,336.4 659.3,342.2 651.5,348.1 643.7,349.1 637.8,348.1 626.0,349.1"/><polyline points="656.4,373.6 657.4,367.7 661.3,361.9 665.2,354.0 667.2,344.2 673.1,336.4 677.4,335.4 676.0,342.2 673.1,346.2 672.1,352.0 677.0,354.0 682.9,356.0 687.8,357.9 688.8,361.9 686.8,365.8 689.8,369.7 691.7,373.6 690.7,377.5 688.8,382.1"/><polyline points="629.9,352.0 637.8,354.0 643.7,357.9 641.7,359.9 633.8,357.9 629.9,355.0 629.9,352.0"/><polyline points="733.9,252.0 739.8,254.9 743.7,253.0"/><polyline points="626.0,357.9 628.0,361.9 626.0,369.7"/><polyline points="679.0,377.5 682.9,373.6 684.9,379.5 680.9,382.1"/></g>
<g clip-path="url(#lC2)"><polyline points="305.5,382.0 304.5,387.9 307.4,393.8 305.5,403.6 303.5,413.4 302.5,421.2 303.5,429.1 305.5,433.0 303.5,440.9 305.5,448.7 307.4,456.5 311.3,462.4 314.3,468.3 315.3,474.2 317.2,480.1 319.2,486.0 322.1,491.9 325.1,497.7 329.0,501.7 334.9,505.6 338.8,509.5 340.8,512.1"/></g>
<g clip-path="url(#lC3)"><polyline points="626.0,393.8 620.7,401.6 612.9,407.5 605.0,413.4 597.2,421.2 599.1,429.1 593.2,435.0 585.4,436.9 579.5,442.8 575.6,446.7 573.6,452.6 569.7,454.6 567.7,464.4 565.8,474.2 567.7,484.0 569.7,491.9 565.8,497.7 557.9,503.6 550.1,512.1"/><polyline points="561.9,450.7 565.8,456.5 564.8,464.4 567.7,470.3 569.7,466.4 567.7,460.5 569.7,454.6"/></g>
<g clip-path="url(#lC4)"><polyline points="626.0,409.5 633.8,405.5 645.6,397.7 653.5,389.8 649.5,385.9 647.6,382.0"/><polyline points="686.8,382.0 688.8,384.0 690.7,383.0"/></g>
<g clip-path="url(#lD1)"><polyline points="108.3,626.2 109.9,623.4 112.8,623.0 113.4,625.4 110.9,625.4"/><polyline points="119.3,627.7 119.7,630.7 122.6,631.7 121.3,628.7 119.7,627.7"/><polyline points="123.6,631.7 127.1,632.1"/><polyline points="127.5,634.0 129.5,634.6 131.5,636.6 129.1,637.5 127.9,635.6"/><polyline points="132.1,640.5 132.6,642.1"/></g>
<g clip-path="url(#lD2)"><polyline points="340.8,512.0 342.7,517.9 346.7,527.7 350.6,537.5 351.6,547.3 355.5,553.2 358.4,561.0 356.5,568.9 360.4,572.8 364.3,576.7 367.3,582.6 369.2,588.5 368.2,596.4 372.2,600.3 378.0,608.1 382.0,616.0 384.9,611.1 383.9,608.1"/><polyline points="355.5,529.7 358.4,530.6 356.5,541.4 362.4,551.2 365.3,557.1 368.2,563.0 372.2,570.9 373.1,578.7 374.1,586.5 376.1,596.4 380.0,604.2 382.9,610.1"/><polyline points="356.5,529.7 362.4,531.6 366.3,539.5 370.2,549.3 372.2,557.1 376.1,565.0 380.0,572.8 383.9,578.7 384.9,586.5 389.8,592.4 393.7,598.3 397.7,606.2 403.5,616.0 406.5,623.8 407.5,631.7 405.5,639.5 405.5,642.1"/><polyline points="450.6,570.9 448.7,586.5 450.6,594.4 448.7,606.2 446.7,619.9 448.7,629.7 450.6,637.5 452.0,642.1"/></g>
<g clip-path="url(#lD3)"><polyline points="452.0,563.0 455.9,559.1 459.8,553.2 463.8,549.3 467.7,548.3 473.6,549.3 479.5,548.3 483.4,551.2 485.3,553.2 489.3,554.2 493.2,553.2 493.2,549.3 494.2,545.3 499.1,543.4 508.9,541.4 514.8,543.4 518.7,547.3 522.6,546.3 525.6,549.3 528.5,555.2 528.5,563.0 529.5,570.9 530.5,578.7 532.4,584.6 536.4,590.5 539.3,592.4 542.2,589.5 543.2,578.7 542.2,568.9 541.3,561.0 539.3,551.2 537.3,543.4 536.4,533.6 537.3,527.7 539.3,523.8 543.2,517.9 546.2,514.0 548.1,512.0"/><polyline points="549.1,579.7 554.0,577.7 557.9,576.7 559.9,580.7 558.9,585.6"/><polyline points="553.0,594.4 555.0,592.4 556.0,600.3 556.9,608.1 554.0,604.2 553.0,598.3"/><polyline points="562.8,590.5 565.8,594.4 567.7,600.3 569.7,604.2"/><polyline points="569.7,608.1 571.7,614.0 574.6,617.9 577.5,621.9"/><polyline points="579.5,620.9 583.4,621.9"/><polyline points="585.4,627.7 589.3,625.8 591.3,627.7"/><polyline points="578.5,631.7 581.5,633.6 579.5,635.6"/><polyline points="534.4,598.3 537.3,597.9"/><polyline points="518.7,625.8 520.7,621.9 526.5,617.9 532.4,614.0 538.3,613.0 544.2,616.0 548.1,618.9 554.0,623.8 557.9,627.7 561.9,631.7 565.8,635.6 571.7,639.5 575.6,642.1"/><polyline points="518.7,625.8 526.5,625.8 530.5,621.9 534.4,619.9 540.3,621.9 546.2,625.8 550.1,629.7 554.0,633.6 557.9,637.5 561.9,642.1"/><polyline points="527.5,625.8 529.5,624.8 530.5,628.7 528.1,628.7 527.5,625.8"/><polyline points="487.3,642.1 489.3,633.6 493.2,629.7 499.1,628.7 505.0,629.7 507.9,631.7 506.9,637.5 505.9,642.1"/></g>
<g clip-path="url(#lAK)"><polyline points="104.0,264.5 111.9,264.5 115.3,269.0 117.0,265.7 123.7,265.7 123.7,275.2 118.7,280.9 113.0,284.8 108.5,288.8 107.4,290.0"/><polyline points="118.7,290.0 124.3,284.3 129.9,279.8 135.6,275.2 141.2,270.7 145.1,265.1 142.3,262.8 144.6,259.5 149.1,254.9 151.4,251.6 151.4,247.1 154.7,244.8 160.4,242.5 163.8,241.4 162.6,243.7 157.0,247.1 155.9,252.7 153.6,257.2 157.0,260.6 161.5,259.5 166.0,256.1 170.5,253.8 172.8,252.7 173.9,243.7 177.3,244.8 182.9,245.4 187.4,248.2 194.2,252.7 204.0,253.3"/><polyline points="137.8,280.3 141.2,285.4 144.6,284.3 146.8,280.9 151.4,278.6 151.4,273.0 152.5,270.7 150.2,269.6 146.8,271.9 142.3,275.2 137.8,280.3"/></g>
<g clip-path="url(#lX1)"><polyline points="278.0,155.8 282.5,154.7 283.6,150.7 289.3,154.1 293.8,160.9 298.3,161.5 301.7,156.4 304.5,161.5 307.3,162.0 310.1,158.1 318.6,157.5 323.1,159.2 328.7,162.6 336.6,164.3 345.6,166.5 355.8,168.2 358.6,171.6 353.5,173.3 353.0,177.2 359.2,177.8 368.2,177.2 378.0,176.1"/><polyline points="306.2,123.1 305.1,126.5 298.3,135.5 307.3,140.0 310.7,145.7 320.8,142.9 325.4,140.6 327.6,137.8 330.4,131.6 338.9,127.6 347.9,124.8 354.7,123.4"/><polyline points="355.8,124.3 345.6,127.6 337.8,130.5 333.8,135.5 332.1,139.5 336.6,141.7 339.4,142.9 338.9,146.2 341.1,147.9 354.7,149.6 365.9,151.5 356.9,154.1 344.5,154.7 345.6,159.2 351.3,162.0 360.3,164.3 363.7,168.2 373.8,169.4 378.0,168.8"/><polyline points="361.4,123.7 363.7,128.8 369.3,126.5 378.0,128.2"/></g>
<g clip-path="url(#lX2)"><polyline points="592.5,382.1 597.4,374.6 603.6,366.0 608.6,360.4 614.8,351.1 621.0,348.6 630.9,347.4 642.1,349.8 652.0,349.2 657.0,344.9 663.2,338.7 670.6,336.2 676.8,335.6"/><polyline points="593.7,382.1 602.4,370.9 608.6,363.5 617.3,359.8 626.0,359.1 629.7,362.2 626.0,367.2 619.8,369.7 626.0,373.4 627.2,382.1 632.2,389.5 639.6,392.0 643.3,392.0"/><polyline points="649.5,380.8 653.2,389.5 648.3,394.5 643.3,399.4 634.6,405.6 627.2,410.6 622.2,414.3 619.8,409.4 623.5,404.4 627.2,395.7 621.0,398.2 614.8,401.9 607.4,406.9 597.4,414.3 595.0,420.0"/><polyline points="657.0,372.2 659.4,367.2 661.9,361.0 665.6,354.8 669.4,348.6 671.8,342.4 676.8,336.2 676.8,339.9 674.3,347.4 671.8,352.3 676.8,352.3 679.3,354.8 683.0,356.0 688.0,357.3 689.2,362.2 689.2,366.0 691.7,369.7 692.9,373.4 690.5,377.1 689.2,382.1 686.7,384.6 683.0,382.1 679.3,380.8 674.3,382.1 670.6,377.1 664.4,374.6 657.0,372.2"/><polyline points="628.4,352.3 633.4,353.6 642.1,356.0 643.3,359.8 637.1,359.8 632.2,356.0 628.4,352.3"/><polyline points="629.7,382.1 633.4,385.8 639.6,387.0 642.1,385.8 637.1,388.3 630.9,385.8 629.7,382.1"/></g>
<g clip-path="url(#lX3)"><polyline points="449.6,599.9 450.3,591.4 451.0,586.2 450.3,578.4 451.0,569.2 453.6,564.0 457.5,560.1 461.4,556.2 464.0,552.3 464.7,549.6 467.9,548.3 471.2,547.7 474.5,549.0 478.4,549.6 481.0,547.7 483.6,552.3 484.9,554.9 488.8,554.9 491.4,552.3 494.1,556.2 492.8,552.3 491.4,543.1 494.1,540.5 498.0,541.8 501.9,543.1 504.5,541.8 507.1,541.8 510.0,540.5"/></g>
<g clip-path="url(#lX4)"><polyline points="557.0,252.0 557.8,257.1 551.9,263.9 557.0,270.7 560.4,277.5 561.2,286.0 560.4,292.8 553.6,301.3 547.6,306.4 548.5,313.2 550.2,320.0 551.9,328.5 550.2,333.6 545.1,340.4 540.0,335.3"/><polyline points="602.9,252.0 602.0,258.8 606.3,265.6 611.4,270.7 616.5,269.0 621.6,265.6 623.3,260.5 626.0,257.1"/><polyline points="543.4,291.1 546.8,286.8 549.3,288.5 548.5,293.6 545.1,293.6 543.4,291.1"/><polyline points="594.4,382.0 601.2,371.0 608.0,360.8 614.8,354.0 621.6,349.7 626.0,348.9"/><polyline points="604.6,382.0 608.0,374.4 614.8,369.3 621.6,364.2 626.0,360.8"/></g>
<g clip-path="url(#lX5)"><polyline points="190.0,156.2 195.0,155.6 202.4,155.2 208.6,157.4 212.3,159.3 216.0,159.3 222.2,160.5 227.2,163.0 232.2,165.5 239.6,168.0 240.2,164.9 242.1,162.4 244.6,160.5 248.3,160.5 253.2,162.4 257.0,160.5 261.9,158.7 266.9,156.8 271.8,153.7 274.3,153.1 275.6,156.2 279.3,155.6 281.8,153.7 283.0,151.2 284.3,150.0"/><polyline points="284.3,150.6 289.2,153.7 291.7,157.4 292.9,159.9 296.7,161.2 300.0,160.5"/></g>
<g clip-path="url(#lX6)"><polyline points="278.0,326.7 281.4,328.4 284.8,333.5 284.8,340.3 282.2,343.7"/><polyline points="282.2,343.7 288.2,344.5 295.0,347.1 298.4,348.8 303.5,352.2 307.7,353.9 309.4,359.0 308.6,362.4 303.5,362.4 298.4,357.3 293.3,352.2 288.2,350.5 283.1,347.1 282.2,343.7"/><polyline points="298.4,349.6 305.2,353.9 310.3,353.9 312.0,360.7 313.7,370.9 312.0,374.3 308.6,370.9 303.5,369.2 301.8,370.9 304.3,381.9"/></g>
<g clip-path="url(#lX7)"><polyline points="429.1,321.6 432.5,320.8 435.9,323.3 437.6,326.7 435.9,330.1 437.6,333.5 441.0,336.9 442.7,340.3 443.6,347.1 446.1,348.8 442.7,349.6 441.0,343.7 437.6,336.9 434.2,333.5 433.4,328.4 430.0,325.0 429.1,321.6"/><polyline points="439.3,316.5 442.7,314.0 447.0,315.7 449.5,323.3 452.9,331.8 456.3,340.3 456.3,347.1 452.9,347.1 451.2,340.3 447.8,333.5 444.4,328.4 441.0,323.3 439.3,316.5"/><polyline points="374.8,266.4 383.3,256.2 386.7,257.1 395.2,259.6 386.7,262.2 379.9,265.6 377.3,267.6 374.8,266.4"/><polyline points="418.9,289.4 422.3,284.3 420.6,279.2 424.0,272.4 427.4,275.8 424.9,279.2 423.2,286.0 419.8,289.4"/></g>
<g clip-path="url(#lX8)"><polyline points="142.0,270.0 143.1,266.5 144.2,264.3 142.5,262.0 144.8,258.6 148.2,255.2 150.4,253.0 151.6,249.6 151.0,247.4 153.8,245.1 158.3,242.8 164.0,241.1 157.2,245.7 156.1,247.4 157.2,250.7 154.9,256.4 153.8,258.6 156.1,260.9 158.3,261.4 162.8,258.6 167.4,255.2 169.6,254.1 171.9,253.0 173.0,249.6 173.0,244.0 175.2,244.5 179.8,245.7 184.3,247.4 187.6,248.5 191.0,251.3 194.4,253.0 198.9,253.0 204.6,253.0 210.2,254.1 214.7,255.2 220.0,255.2"/><polyline points="120.0,265.4 123.4,265.4 123.4,270.0"/><polyline points="212.7,200.0 212.7,250.7 215.8,251.3 220.0,251.9"/></g>
<g clip-path="url(#lX9)"><polyline points="340.8,512.0 342.7,517.9 346.7,527.7 350.6,537.5 351.6,547.3 355.5,553.2 358.4,561.0 356.5,568.9 360.4,572.8 364.3,576.7 367.3,582.6 369.2,588.5 368.2,596.4 372.2,600.3 378.0,608.1 382.0,616.0 384.9,611.1 383.9,608.1"/><polyline points="355.5,529.7 358.4,530.6 356.5,541.4 362.4,551.2 365.3,557.1 368.2,563.0 372.2,570.9 373.1,578.7 374.1,586.5 376.1,596.4 380.0,604.2 382.9,610.1"/><polyline points="356.5,529.7 362.4,531.6 366.3,539.5 370.2,549.3 372.2,557.1 376.1,565.0 380.0,572.8 383.9,578.7 384.9,586.5 389.8,592.4 393.7,598.3 397.7,606.2 403.5,616.0 406.5,623.8 407.5,631.7 405.5,639.5 405.5,642.1"/><polyline points="450.6,570.9 448.7,586.5 450.6,594.4 448.7,606.2 446.7,619.9 448.7,629.7 450.6,637.5 452.0,642.1"/><polyline points="449.6,599.9 450.3,591.4 451.0,586.2 450.3,578.4 451.0,569.2 453.6,564.0 457.5,560.1 461.4,556.2 464.0,552.3 464.7,549.6 467.9,548.3 471.2,547.7 474.5,549.0 478.4,549.6 481.0,547.7 483.6,552.3 484.9,554.9 488.8,554.9 491.4,552.3 494.1,556.2 492.8,552.3 491.4,543.1 494.1,540.5 498.0,541.8 501.9,543.1 504.5,541.8 507.1,541.8 510.0,540.5"/></g>
<polyline points="308.4,360.7 461.3,360.7 461.3,357.0 463.3,357.8 464.3,363.7 470.3,365.1 475.2,366.1 481.7,370.0 489.3,369.5 491.5,370.5"/>
<polyline points="212.2,158.8 212.2,250.3 223.1,253.2 231.2,263.0 236.7,258.1 242.1,255.1 244.8,258.1 253.0,267.9 261.1,282.5 266.6,290.3 272.0,293.3 272.0,299.1 268.7,305.0"/>
<polyline points="304.6,387.5 307.3,387.6 310.0,388.6 311.1,391.1 311.4,393.5 313.8,394.5 319.8,393.5 323.1,392.5 328.5,390.9 331.8,390.1 343.1,390.1"/>
<polyline points="342.4,360.7 342.4,385.9 343.1,390.1 344.0,392.0 345.3,395.5 343.8,399.8 342.4,406.7 343.2,411.6 342.5,413.5 342.5,429.2"/>
<polyline points="347.8,360.7 347.8,370.7 349.7,373.5 349.7,375.9 351.9,377.9 355.7,383.7 357.3,383.7 356.8,390.1 356.2,394.0 358.9,394.0 360.0,399.8 361.9,401.3 364.4,405.2 365.5,405.7 367.6,405.2 370.6,404.7 373.1,402.8 375.0,404.9"/>
<polyline points="375.0,399.8 375.0,439.0 413.0,439.0 413.0,360.7"/>
<polyline points="375.0,399.8 413.0,399.8"/>
<polyline points="303.5,429.2 375.0,429.2"/>
<polyline points="385.8,439.0 385.8,533.5"/>
<polyline points="326.3,429.2 326.3,458.5 355.5,497.6"/>
<polyline points="358.7,429.2 358.7,485.9 358.4,486.9 355.1,487.8 355.9,493.7 355.5,497.6 355.7,502.5 357.0,504.5 356.2,508.4 355.1,513.3 356.2,517.2 355.0,519.9"/>
<polyline points="358.7,478.1 418.7,478.1"/>
<polyline points="423.9,478.1 464.2,478.1"/>
<polyline points="423.9,439.0 423.9,478.1"/>
<polyline points="423.9,448.7 460.5,448.7"/>
<polyline points="418.5,478.1 418.5,527.0 399.1,527.0"/>
<polyline points="418.5,483.0 435.0,483.0 435.0,501.9 439.3,503.5 445.3,506.4 451.8,507.9 457.3,508.9 465.0,510.9 467.4,511.8 467.4,527.0 468.7,534.8 470.3,542.6 468.5,549.4"/>
<polyline points="465.0,510.9 465.3,493.7 464.2,483.0 464.2,457.5 462.7,453.6 460.5,448.7 457.8,442.9 457.3,436.0 455.6,429.2 453.5,424.3 448.6,420.9 443.1,419.4 413.0,419.4"/>
<polyline points="413.0,390.7 453.7,390.7"/>
<polyline points="450.0,360.7 450.8,369.5 452.1,375.4 452.4,384.2 453.7,390.7 453.7,396.9 454.3,414.5 453.5,424.3"/>
<polyline points="454.3,414.5 482.7,414.5"/>
<polyline points="457.8,442.9 480.1,442.9 481.7,445.0"/>
<polyline points="477.9,382.7 476.8,389.1 474.1,394.0 474.1,402.3 479.6,407.7 482.7,414.5 483.4,421.8 486.1,425.3 488.2,431.1 484.4,435.0 483.4,441.9 481.7,445.0 481.7,450.7 486.1,457.5 488.2,461.4 487.4,466.3 492.0,475.1 494.2,478.6 492.0,483.0 491.0,487.8 488.8,497.6 486.1,503.5 483.4,512.3 483.1,517.2 482.8,525.0 480.6,531.8 480.6,536.7 490.7,536.7 491.5,544.6"/>
<polyline points="464.2,483.0 488.5,483.0 487.2,487.8 491.0,487.8"/>
<polyline points="467.4,517.0 483.1,517.2"/>
<polyline points="501.3,398.9 499.7,392.0 494.8,388.6 487.2,384.7"/>
<polyline points="485.9,424.3 501.3,424.3"/>
<polyline points="502.8,431.5 502.8,461.4 500.7,468.3 500.2,470.2 498.0,474.2 494.2,478.6"/>
<polyline points="505.6,432.1 524.9,432.1"/>
<polyline points="517.6,432.1 517.6,457.5"/>
<polyline points="500.2,470.2 505.6,469.3 509.4,468.3 513.8,462.4 517.6,457.5 520.3,460.5 523.6,462.4 529.5,464.4 531.7,460.5 534.4,456.6 538.8,451.7 540.8,442.5 540.8,429.2"/>
<polyline points="492.0,482.0 534.4,482.0"/>
<polyline points="523.6,482.0 529.5,474.2 532.8,473.2"/>
<polyline points="529.5,464.4 530.6,470.2 532.8,473.2 537.1,475.1 542.0,473.2 546.4,464.4 550.2,459.5 552.9,455.6 555.6,455.6"/>
<polyline points="487.7,497.6 526.8,497.6"/>
<polyline points="520.3,497.6 526.8,491.8 531.7,486.9 534.4,482.0"/>
<polyline points="499.1,497.6 497.8,527.9 498.0,542.6"/>
<polyline points="513.2,497.6 515.4,519.1 516.5,536.7 517.3,539.7 532.8,541.1 535.8,539.7"/>
<polyline points="502.4,536.7 516.5,536.7"/>
<polyline points="502.4,536.7 502.9,543.6"/>
<polyline points="526.8,497.6 530.6,502.5 537.1,515.2 538.8,526.5"/>
<polyline points="526.8,497.6 530.6,495.7 538.2,496.2 539.3,499.6 545.3,499.6 551.5,508.9"/>
<polyline points="534.4,482.5 565.9,482.5"/>
<polyline points="540.8,451.5 566.5,451.5 567.0,463.9 570.6,463.9"/>
<polyline points="546.5,451.5 546.5,456.6 552.9,452.6 555.6,455.6 559.4,459.5 558.3,464.4 563.8,468.3"/>
<polyline points="540.8,429.2 568.9,429.2 572.5,435.5 570.3,440.9 572.2,446.8 568.1,451.7"/>
<polyline points="572.5,435.5 576.8,439.1"/>
<polyline points="579.8,399.8 579.8,413.5 580.2,421.8 579.0,428.7 579.0,438.0"/>
<polyline points="589.8,399.8 587.1,406.7 584.4,422.0"/>
<polyline points="580.2,422.0 590.9,422.0 593.7,420.7"/>
<polyline points="579.0,428.7 590.4,428.7 588.2,436.0"/>
<polyline points="590.4,428.7 590.4,434.1"/>
<polyline points="592.1,396.9 592.7,413.5 594.2,418.4"/>
<polyline points="572.5,399.8 589.8,399.8 592.1,396.9 596.4,391.1 598.0,383.2 602.3,375.9 607.2,376.9 610.0,379.6 610.0,393.0 612.1,394.0 614.3,400.8"/>
<polyline points="342.0,521.8 355.0,519.9 354.5,522.1 374.9,533.5 390.4,533.5 390.4,529.1 399.5,529.1 401.3,532.3 407.8,539.7 409.5,544.6 410.5,549.9 417.1,556.5 420.3,549.0 424.1,548.5 427.4,549.0 431.7,558.2 433.4,563.6 437.7,571.0 439.9,580.7 444.8,585.1 450.5,586.1"/>
<polyline points="477.9,382.7 483.9,377.4 489.3,372.5 494.8,367.6 498.6,362.7 505.6,363.2 511.1,363.7 516.5,371.0 518.7,380.3 518.7,385.2 513.8,382.7 508.3,385.7 502.9,385.2 500.2,381.3 499.1,375.9 501.8,375.9 497.5,380.3 492.0,382.3 486.6,384.2 481.2,383.2 477.9,382.7"/>
<polyline points="502.9,433.1 501.3,426.2 501.0,419.4 501.8,411.6 502.9,406.7 501.3,403.8 500.2,401.8 502.4,398.9 504.5,396.9 508.3,392.0 513.8,390.1 516.5,390.1 517.9,392.0 521.9,390.1 524.6,389.1 530.1,389.1 535.5,390.1 539.3,391.1 540.9,394.0 543.7,399.8 542.6,403.8 537.1,400.8 535.5,397.9 534.4,400.8 534.4,409.6 532.8,414.5 530.6,419.4"/>
<polyline points="517.9,392.5 516.5,395.9 514.3,397.9 513.2,399.8 510.0,401.8 508.3,409.6 508.9,414.5 510.0,421.4 508.3,428.2 505.6,432.1 502.9,433.1"/>
<polyline points="517.9,392.5 522.5,395.0 525.7,399.8 525.2,406.7 522.5,412.6 525.2,410.6 527.9,409.6 529.5,413.5 530.6,419.4 530.1,423.3 526.8,428.2 524.6,432.1 529.0,434.1 534.4,434.1 540.9,430.2 544.8,426.2 549.6,421.4 548.0,420.4 542.6,423.3 538.2,422.8 532.8,428.2 530.1,426.2 530.1,423.3"/>
<polyline points="544.8,416.5 549.1,417.0 557.2,417.0 562.7,415.5 564.3,413.5 563.8,408.6 560.0,409.6 557.2,410.1 551.8,410.6 546.9,413.0 544.8,416.5"/>
<polyline points="563.8,408.6 568.1,403.8 572.5,399.8"/></g></g><!--endmap-->
<!-- frame & ticks -->
<rect x="104.5" y="122.5" width="695" height="520" fill="none" stroke="#000" stroke-width="1" shape-rendering="crispEdges"/>
<path fill="none" stroke="#000" stroke-width="1" shape-rendering="crispEdges" d="M109.5 111V122M109.5 643V654 M164.5 111V122M164.5 643V654 M218.5 111V122M218.5 643V654 M272.5 111V122M272.5 643V654 M327.5 111V122M327.5 643V654 M381.5 111V122M381.5 643V654 M435.5 111V122M435.5 643V654 M489.5 111V122M489.5 643V654 M544.5 111V122M544.5 643V654 M598.5 111V122M598.5 643V654 M652.5 111V122M652.5 643V654 M707.5 111V122M707.5 643V654 M761.5 111V122M761.5 643V654 M93 595.5H104M800 595.5H811 M93 547.5H104M800 547.5H811 M93 498.5H104M800 498.5H811 M93 449.5H104M800 449.5H811 M93 400.5H104M800 400.5H811 M93 351.5H104M800 351.5H811 M93 302.5H104M800 302.5H811 M93 253.5H104M800 253.5H811 M93 204.5H104M800 204.5H811 M93 156.5H104M800 156.5H811"/>
<!-- axis labels -->
<g font-size="13.6">
<text x="56.7" y="209.5" textLength="30" lengthAdjust="spacingAndGlyphs">65°N</text>
<text x="56.7" y="307.3" textLength="30" lengthAdjust="spacingAndGlyphs">55°N</text>
<text x="56.7" y="405" textLength="30" lengthAdjust="spacingAndGlyphs">45°N</text>
<text x="56.7" y="502.8" textLength="30" lengthAdjust="spacingAndGlyphs">35°N</text>
<text x="56.7" y="600.5" textLength="30" lengthAdjust="spacingAndGlyphs">25°N</text>
</g>
<g font-size="13.6">
<text x="90.5" y="671" textLength="40" lengthAdjust="spacingAndGlyphs">160°W</text>
<text x="199" y="671" textLength="40" lengthAdjust="spacingAndGlyphs">140°W</text>
<text x="307.7" y="671" textLength="40" lengthAdjust="spacingAndGlyphs">120°W</text>
<text x="416.4" y="671" textLength="40" lengthAdjust="spacingAndGlyphs">100°W</text>
<text x="527.5" y="671" textLength="33" lengthAdjust="spacingAndGlyphs">80°W</text>
<text x="636.2" y="671" textLength="33" lengthAdjust="spacingAndGlyphs">60°W</text>
<text x="744.8" y="671" textLength="33" lengthAdjust="spacingAndGlyphs">40°W</text>
</g>
<text x="417.2" y="691.8" font-size="15.5" textLength="69.5" lengthAdjust="spacingAndGlyphs">longitude</text>
<text transform="translate(46 410) rotate(-90)" font-size="15" textLength="55" lengthAdjust="spacingAndGlyphs">latitude</text>
<g class="s" font-size="15.6" style="stroke:#000;stroke-width:0.35px"><text class="s" x="127.1" y="715.7" textLength="74.3" lengthAdjust="spacingAndGlyphs">(PREC[D=</text><text class="s" x="202.4" y="715.7" textLength="128.2" lengthAdjust="spacingAndGlyphs">precip_daily00z,</text><text class="s" x="331.4" y="715.7" textLength="137.6" lengthAdjust="spacingAndGlyphs">L=213:243@SUM])</text><text class="s" x="470.2" y="715.7" textLength="101.3" lengthAdjust="spacingAndGlyphs">-PCPNEW[D=</text><text class="s" x="572.5" y="715.7" textLength="203.6" lengthAdjust="spacingAndGlyphs">exp0.0.cru.uqam.pcp,L=8]</text></g>
<!-- colorbar -->
<g shape-rendering="crispEdges"><rect x="820" y="122" width="24" height="34" fill="#ffff00"/><rect x="820" y="156" width="24" height="35" fill="#cdc855"/><rect x="820" y="191" width="24" height="35" fill="#ff8000"/><rect x="820" y="226" width="24" height="34" fill="#b21a1a"/><rect x="820" y="260" width="24" height="35" fill="#ff0000"/><rect x="820" y="295" width="24" height="35" fill="#ff8080"/><rect x="820" y="330" width="24" height="35" fill="#ffcccc"/><rect x="820" y="365" width="24" height="34" fill="#fff2dc"/><rect x="820" y="399" width="24" height="35" fill="#ccccff"/><rect x="820" y="434" width="24" height="35" fill="#8080ff"/><rect x="820" y="469" width="24" height="34" fill="#0000ff"/><rect x="820" y="503" width="24" height="35" fill="#000090"/><rect x="820" y="538" width="24" height="35" fill="#9600dc"/><rect x="820" y="573" width="24" height="34" fill="#cc66cc"/><rect x="820" y="607" width="24" height="35" fill="#ff00ff"/><path d="M820.5 122V643M843.5 122V643M820 122.5H844M820 156.5H844M820 191.5H844M820 226.5H844M820 260.5H844M820 295.5H844M820 330.5H844M820 365.5H844M820 399.5H844M820 434.5H844M820 469.5H844M820 503.5H844M820 538.5H844M820 573.5H844M820 607.5H844M820 642.5H844" stroke="#000" stroke-width="1" fill="none"/></g>
<g font-size="15"><text x="858" y="128" textLength="26.3" lengthAdjust="spacingAndGlyphs">375</text>
<text x="858" y="162" textLength="26.3" lengthAdjust="spacingAndGlyphs">325</text>
<text x="858" y="197" textLength="26.3" lengthAdjust="spacingAndGlyphs">275</text>
<text x="858" y="232" textLength="26.3" lengthAdjust="spacingAndGlyphs">225</text>
<text x="858" y="266" textLength="26.3" lengthAdjust="spacingAndGlyphs">175</text>
<text x="858" y="301" textLength="26.3" lengthAdjust="spacingAndGlyphs">125</text>
<text x="865" y="336" textLength="17.5" lengthAdjust="spacingAndGlyphs">75</text>
<text x="865" y="371" textLength="17.5" lengthAdjust="spacingAndGlyphs">25</text>
<text x="858" y="405" textLength="31" lengthAdjust="spacingAndGlyphs">−25</text>
<text x="858" y="440" textLength="31" lengthAdjust="spacingAndGlyphs">−75</text>
<text x="851" y="475" textLength="40" lengthAdjust="spacingAndGlyphs">−125</text>
<text x="851" y="509" textLength="40" lengthAdjust="spacingAndGlyphs">−175</text>
<text x="851" y="544" textLength="40" lengthAdjust="spacingAndGlyphs">−225</text>
<text x="851" y="579" textLength="40" lengthAdjust="spacingAndGlyphs">−275</text>
<text x="851" y="613" textLength="40" lengthAdjust="spacingAndGlyphs">−325</text>
<text x="851" y="648" textLength="40" lengthAdjust="spacingAndGlyphs">−375</text>
</g>
</svg>
</body></html>
